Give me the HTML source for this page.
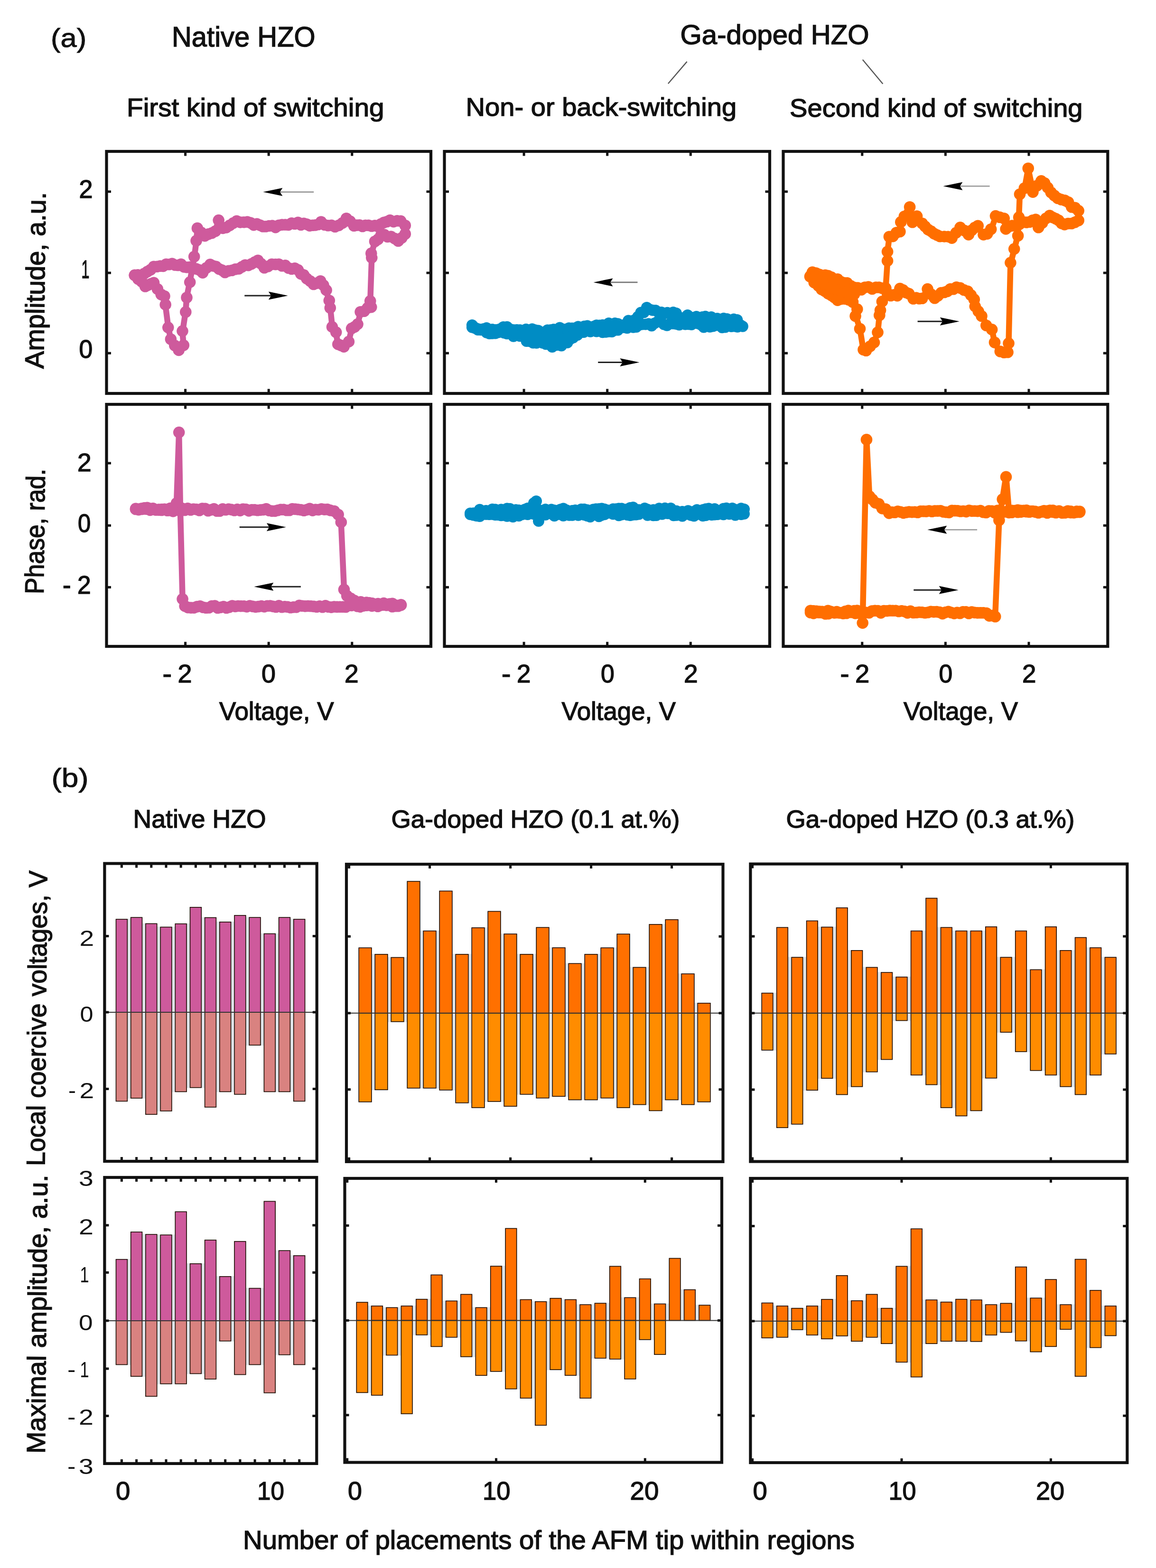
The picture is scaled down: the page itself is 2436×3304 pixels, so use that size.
<!DOCTYPE html>
<html><head><meta charset="utf-8"><title>Figure</title>
<style>html,body{margin:0;padding:0;background:#fff;}svg{display:block;}</style>
</head><body>
<svg xmlns="http://www.w3.org/2000/svg" width="2436" height="3304" viewBox="0 0 2436 3304" font-family='"Liberation Sans", Arial, sans-serif'><rect x="224.5" y="319.0" width="683.5" height="510.0" fill="none" stroke="#111" stroke-width="6.2"/>
<line x1="390.6" y1="319.0" x2="390.6" y2="328.5" stroke="#111" stroke-width="5.0"/>
<line x1="390.6" y1="829.0" x2="390.6" y2="819.5" stroke="#111" stroke-width="5.0"/>
<line x1="566.2" y1="319.0" x2="566.2" y2="328.5" stroke="#111" stroke-width="5.0"/>
<line x1="566.2" y1="829.0" x2="566.2" y2="819.5" stroke="#111" stroke-width="5.0"/>
<line x1="741.8" y1="319.0" x2="741.8" y2="328.5" stroke="#111" stroke-width="5.0"/>
<line x1="741.8" y1="829.0" x2="741.8" y2="819.5" stroke="#111" stroke-width="5.0"/>
<line x1="224.5" y1="403.8" x2="234.0" y2="403.8" stroke="#111" stroke-width="5.0"/>
<line x1="908.0" y1="403.8" x2="898.5" y2="403.8" stroke="#111" stroke-width="5.0"/>
<line x1="224.5" y1="575.0" x2="234.0" y2="575.0" stroke="#111" stroke-width="5.0"/>
<line x1="908.0" y1="575.0" x2="898.5" y2="575.0" stroke="#111" stroke-width="5.0"/>
<line x1="224.5" y1="744.2" x2="234.0" y2="744.2" stroke="#111" stroke-width="5.0"/>
<line x1="908.0" y1="744.2" x2="898.5" y2="744.2" stroke="#111" stroke-width="5.0"/>
<rect x="224.5" y="852.0" width="683.5" height="510.0" fill="none" stroke="#111" stroke-width="6.2"/>
<line x1="390.6" y1="852.0" x2="390.6" y2="861.5" stroke="#111" stroke-width="5.0"/>
<line x1="390.6" y1="1362.0" x2="390.6" y2="1352.5" stroke="#111" stroke-width="5.0"/>
<line x1="566.2" y1="852.0" x2="566.2" y2="861.5" stroke="#111" stroke-width="5.0"/>
<line x1="566.2" y1="1362.0" x2="566.2" y2="1352.5" stroke="#111" stroke-width="5.0"/>
<line x1="741.8" y1="852.0" x2="741.8" y2="861.5" stroke="#111" stroke-width="5.0"/>
<line x1="741.8" y1="1362.0" x2="741.8" y2="1352.5" stroke="#111" stroke-width="5.0"/>
<line x1="224.5" y1="976.0" x2="234.0" y2="976.0" stroke="#111" stroke-width="5.0"/>
<line x1="908.0" y1="976.0" x2="898.5" y2="976.0" stroke="#111" stroke-width="5.0"/>
<line x1="224.5" y1="1107.3" x2="234.0" y2="1107.3" stroke="#111" stroke-width="5.0"/>
<line x1="908.0" y1="1107.3" x2="898.5" y2="1107.3" stroke="#111" stroke-width="5.0"/>
<line x1="224.5" y1="1237.4" x2="234.0" y2="1237.4" stroke="#111" stroke-width="5.0"/>
<line x1="908.0" y1="1237.4" x2="898.5" y2="1237.4" stroke="#111" stroke-width="5.0"/>
<rect x="936.5" y="319.0" width="685.5" height="510.0" fill="none" stroke="#111" stroke-width="6.2"/>
<line x1="1104.1" y1="319.0" x2="1104.1" y2="328.5" stroke="#111" stroke-width="5.0"/>
<line x1="1104.1" y1="829.0" x2="1104.1" y2="819.5" stroke="#111" stroke-width="5.0"/>
<line x1="1279.7" y1="319.0" x2="1279.7" y2="328.5" stroke="#111" stroke-width="5.0"/>
<line x1="1279.7" y1="829.0" x2="1279.7" y2="819.5" stroke="#111" stroke-width="5.0"/>
<line x1="1455.3" y1="319.0" x2="1455.3" y2="328.5" stroke="#111" stroke-width="5.0"/>
<line x1="1455.3" y1="829.0" x2="1455.3" y2="819.5" stroke="#111" stroke-width="5.0"/>
<line x1="936.5" y1="403.8" x2="946.0" y2="403.8" stroke="#111" stroke-width="5.0"/>
<line x1="1622.0" y1="403.8" x2="1612.5" y2="403.8" stroke="#111" stroke-width="5.0"/>
<line x1="936.5" y1="575.0" x2="946.0" y2="575.0" stroke="#111" stroke-width="5.0"/>
<line x1="1622.0" y1="575.0" x2="1612.5" y2="575.0" stroke="#111" stroke-width="5.0"/>
<line x1="936.5" y1="744.2" x2="946.0" y2="744.2" stroke="#111" stroke-width="5.0"/>
<line x1="1622.0" y1="744.2" x2="1612.5" y2="744.2" stroke="#111" stroke-width="5.0"/>
<rect x="936.5" y="852.0" width="685.5" height="510.0" fill="none" stroke="#111" stroke-width="6.2"/>
<line x1="1104.1" y1="852.0" x2="1104.1" y2="861.5" stroke="#111" stroke-width="5.0"/>
<line x1="1104.1" y1="1362.0" x2="1104.1" y2="1352.5" stroke="#111" stroke-width="5.0"/>
<line x1="1279.7" y1="852.0" x2="1279.7" y2="861.5" stroke="#111" stroke-width="5.0"/>
<line x1="1279.7" y1="1362.0" x2="1279.7" y2="1352.5" stroke="#111" stroke-width="5.0"/>
<line x1="1455.3" y1="852.0" x2="1455.3" y2="861.5" stroke="#111" stroke-width="5.0"/>
<line x1="1455.3" y1="1362.0" x2="1455.3" y2="1352.5" stroke="#111" stroke-width="5.0"/>
<line x1="936.5" y1="976.0" x2="946.0" y2="976.0" stroke="#111" stroke-width="5.0"/>
<line x1="1622.0" y1="976.0" x2="1612.5" y2="976.0" stroke="#111" stroke-width="5.0"/>
<line x1="936.5" y1="1107.3" x2="946.0" y2="1107.3" stroke="#111" stroke-width="5.0"/>
<line x1="1622.0" y1="1107.3" x2="1612.5" y2="1107.3" stroke="#111" stroke-width="5.0"/>
<line x1="936.5" y1="1237.4" x2="946.0" y2="1237.4" stroke="#111" stroke-width="5.0"/>
<line x1="1622.0" y1="1237.4" x2="1612.5" y2="1237.4" stroke="#111" stroke-width="5.0"/>
<rect x="1650.5" y="319.0" width="683.8" height="510.0" fill="none" stroke="#111" stroke-width="6.2"/>
<line x1="1816.8" y1="319.0" x2="1816.8" y2="328.5" stroke="#111" stroke-width="5.0"/>
<line x1="1816.8" y1="829.0" x2="1816.8" y2="819.5" stroke="#111" stroke-width="5.0"/>
<line x1="1992.4" y1="319.0" x2="1992.4" y2="328.5" stroke="#111" stroke-width="5.0"/>
<line x1="1992.4" y1="829.0" x2="1992.4" y2="819.5" stroke="#111" stroke-width="5.0"/>
<line x1="2168.0" y1="319.0" x2="2168.0" y2="328.5" stroke="#111" stroke-width="5.0"/>
<line x1="2168.0" y1="829.0" x2="2168.0" y2="819.5" stroke="#111" stroke-width="5.0"/>
<line x1="1650.5" y1="403.8" x2="1660.0" y2="403.8" stroke="#111" stroke-width="5.0"/>
<line x1="2334.3" y1="403.8" x2="2324.8" y2="403.8" stroke="#111" stroke-width="5.0"/>
<line x1="1650.5" y1="575.0" x2="1660.0" y2="575.0" stroke="#111" stroke-width="5.0"/>
<line x1="2334.3" y1="575.0" x2="2324.8" y2="575.0" stroke="#111" stroke-width="5.0"/>
<line x1="1650.5" y1="744.2" x2="1660.0" y2="744.2" stroke="#111" stroke-width="5.0"/>
<line x1="2334.3" y1="744.2" x2="2324.8" y2="744.2" stroke="#111" stroke-width="5.0"/>
<rect x="1650.5" y="852.0" width="683.8" height="510.0" fill="none" stroke="#111" stroke-width="6.2"/>
<line x1="1816.8" y1="852.0" x2="1816.8" y2="861.5" stroke="#111" stroke-width="5.0"/>
<line x1="1816.8" y1="1362.0" x2="1816.8" y2="1352.5" stroke="#111" stroke-width="5.0"/>
<line x1="1992.4" y1="852.0" x2="1992.4" y2="861.5" stroke="#111" stroke-width="5.0"/>
<line x1="1992.4" y1="1362.0" x2="1992.4" y2="1352.5" stroke="#111" stroke-width="5.0"/>
<line x1="2168.0" y1="852.0" x2="2168.0" y2="861.5" stroke="#111" stroke-width="5.0"/>
<line x1="2168.0" y1="1362.0" x2="2168.0" y2="1352.5" stroke="#111" stroke-width="5.0"/>
<line x1="1650.5" y1="976.0" x2="1660.0" y2="976.0" stroke="#111" stroke-width="5.0"/>
<line x1="2334.3" y1="976.0" x2="2324.8" y2="976.0" stroke="#111" stroke-width="5.0"/>
<line x1="1650.5" y1="1107.3" x2="1660.0" y2="1107.3" stroke="#111" stroke-width="5.0"/>
<line x1="2334.3" y1="1107.3" x2="2324.8" y2="1107.3" stroke="#111" stroke-width="5.0"/>
<line x1="1650.5" y1="1237.4" x2="1660.0" y2="1237.4" stroke="#111" stroke-width="5.0"/>
<line x1="2334.3" y1="1237.4" x2="2324.8" y2="1237.4" stroke="#111" stroke-width="5.0"/>
<path d="M283.8,580.1 L303.9,576.8 L324.1,563.3 L337.5,560.0 L368.9,557.0 L400.2,562.0 L427.1,574.5 L442.8,558.9 L474.1,572.3 L503.2,565.6 L543.5,547.7 L557.0,565.6 L580.6,555.8 L601.2,560.0 L627.9,570.2 L646.4,584.6 L660.8,601.1 L675.3,590.8 L687.6,613.5 L693.8,634.0 L695.8,646.4 L700.0,687.6 L708.2,702.0 L712.3,726.7 L724.6,732.8 L734.9,718.4 L741.1,693.7 L753.5,683.4 L759.6,658.7 L782.3,646.4 L780.2,636.1 L783.3,543.5 L782.3,535.3 L790.0,510.0 L803.1,494.0 L816.5,497.0 L839.1,506.0 L853.8,495.0 L853.8,472.6 L844.4,467.3 L821.8,465.0 L796.5,477.0 L769.9,475.0 L745.9,474.0 L729.9,462.0 L706.0,479.0 L676.6,469.0 L652.6,476.0 L627.9,470.0 L601.2,473.0 L580.6,478.0 L560.0,477.0 L548.0,474.0 L521.2,470.0 L498.8,468.0 L469.6,482.7 L460.7,464.8 L454.0,485.0 L431.6,496.1 L415.9,482.7 L413.6,509.6 L409.2,543.2 L400.2,592.5 L393.5,626.0 L391.3,655.2 L384.5,700.0 L386.8,726.8 L376.7,738.0 L359.9,715.6 L354.3,687.6 L348.7,644.0 L346.5,623.8 L339.7,619.3 L324.1,594.7 L306.1,601.4 L283.8,580.1" fill="none" stroke="#ce5a9c" stroke-width="12.5" stroke-linejoin="round" stroke-linecap="round"/>
<g fill="#ce5a9c"><circle cx="283.8" cy="579.9" r="12.3"/><circle cx="290.5" cy="579.3" r="12.3"/><circle cx="297.2" cy="580.0" r="12.3"/><circle cx="303.9" cy="576.6" r="12.3"/><circle cx="310.6" cy="572.3" r="12.3"/><circle cx="317.4" cy="568.2" r="12.3"/><circle cx="324.1" cy="561.7" r="12.3"/><circle cx="330.8" cy="561.7" r="12.3"/><circle cx="337.5" cy="560.6" r="12.3"/><circle cx="343.8" cy="560.9" r="12.3"/><circle cx="350.1" cy="556.8" r="12.3"/><circle cx="356.3" cy="557.2" r="12.3"/><circle cx="362.6" cy="555.6" r="12.3"/><circle cx="368.9" cy="558.5" r="12.3"/><circle cx="375.2" cy="559.0" r="12.3"/><circle cx="381.4" cy="556.7" r="12.3"/><circle cx="387.7" cy="562.4" r="12.3"/><circle cx="393.9" cy="563.3" r="12.3"/><circle cx="400.2" cy="562.8" r="12.3"/><circle cx="406.9" cy="565.7" r="12.3"/><circle cx="413.6" cy="566.5" r="12.3"/><circle cx="420.4" cy="569.0" r="12.3"/><circle cx="427.1" cy="574.6" r="12.3"/><circle cx="435.0" cy="564.5" r="12.3"/><circle cx="442.8" cy="557.4" r="12.3"/><circle cx="449.1" cy="560.3" r="12.3"/><circle cx="455.3" cy="561.9" r="12.3"/><circle cx="461.6" cy="566.8" r="12.3"/><circle cx="467.8" cy="569.3" r="12.3"/><circle cx="474.1" cy="574.0" r="12.3"/><circle cx="481.4" cy="570.7" r="12.3"/><circle cx="488.6" cy="569.7" r="12.3"/><circle cx="495.9" cy="567.3" r="12.3"/><circle cx="503.2" cy="566.4" r="12.3"/><circle cx="509.9" cy="562.4" r="12.3"/><circle cx="516.6" cy="558.5" r="12.3"/><circle cx="523.4" cy="559.1" r="12.3"/><circle cx="530.1" cy="556.1" r="12.3"/><circle cx="536.8" cy="552.4" r="12.3"/><circle cx="543.5" cy="548.7" r="12.3"/><circle cx="550.2" cy="555.7" r="12.3"/><circle cx="557.0" cy="564.2" r="12.3"/><circle cx="564.9" cy="561.3" r="12.3"/><circle cx="572.7" cy="556.9" r="12.3"/><circle cx="580.6" cy="557.1" r="12.3"/><circle cx="587.5" cy="556.7" r="12.3"/><circle cx="594.3" cy="560.3" r="12.3"/><circle cx="601.2" cy="559.4" r="12.3"/><circle cx="607.9" cy="564.8" r="12.3"/><circle cx="614.5" cy="566.8" r="12.3"/><circle cx="621.2" cy="565.2" r="12.3"/><circle cx="627.9" cy="568.7" r="12.3"/><circle cx="634.1" cy="577.1" r="12.3"/><circle cx="640.2" cy="579.6" r="12.3"/><circle cx="646.4" cy="587.0" r="12.3"/><circle cx="653.6" cy="592.3" r="12.3"/><circle cx="660.8" cy="599.0" r="12.3"/><circle cx="668.0" cy="596.6" r="12.3"/><circle cx="675.3" cy="592.2" r="12.3"/><circle cx="681.5" cy="601.0" r="12.3"/><circle cx="687.6" cy="611.4" r="12.3"/><circle cx="693.8" cy="633.2" r="12.3"/><circle cx="695.8" cy="648.7" r="12.3"/><circle cx="700.0" cy="688.9" r="12.3"/><circle cx="708.2" cy="700.1" r="12.3"/><circle cx="712.3" cy="725.4" r="12.3"/><circle cx="718.5" cy="727.8" r="12.3"/><circle cx="724.6" cy="730.6" r="12.3"/><circle cx="734.9" cy="719.9" r="12.3"/><circle cx="741.1" cy="692.1" r="12.3"/><circle cx="747.3" cy="688.8" r="12.3"/><circle cx="753.5" cy="683.1" r="12.3"/><circle cx="759.6" cy="657.2" r="12.3"/><circle cx="767.2" cy="655.8" r="12.3"/><circle cx="774.7" cy="648.7" r="12.3"/><circle cx="782.3" cy="647.1" r="12.3"/><circle cx="780.2" cy="634.2" r="12.3"/><circle cx="783.3" cy="543.1" r="12.3"/><circle cx="782.3" cy="533.9" r="12.3"/><circle cx="790.0" cy="508.8" r="12.3"/><circle cx="796.5" cy="504.4" r="12.3"/><circle cx="803.1" cy="495.5" r="12.3"/><circle cx="809.8" cy="494.5" r="12.3"/><circle cx="816.5" cy="498.9" r="12.3"/><circle cx="824.0" cy="498.6" r="12.3"/><circle cx="831.6" cy="502.5" r="12.3"/><circle cx="839.1" cy="507.8" r="12.3"/><circle cx="846.5" cy="501.2" r="12.3"/><circle cx="853.8" cy="493.0" r="12.3"/><circle cx="853.8" cy="475.0" r="12.3"/><circle cx="844.4" cy="465.9" r="12.3"/><circle cx="836.9" cy="465.3" r="12.3"/><circle cx="829.3" cy="467.1" r="12.3"/><circle cx="821.8" cy="464.1" r="12.3"/><circle cx="815.5" cy="467.0" r="12.3"/><circle cx="809.1" cy="468.9" r="12.3"/><circle cx="802.8" cy="472.0" r="12.3"/><circle cx="796.5" cy="477.4" r="12.3"/><circle cx="789.9" cy="475.2" r="12.3"/><circle cx="783.2" cy="476.5" r="12.3"/><circle cx="776.5" cy="474.9" r="12.3"/><circle cx="769.9" cy="474.8" r="12.3"/><circle cx="763.9" cy="477.0" r="12.3"/><circle cx="757.9" cy="474.4" r="12.3"/><circle cx="751.9" cy="474.6" r="12.3"/><circle cx="745.9" cy="475.8" r="12.3"/><circle cx="737.9" cy="466.4" r="12.3"/><circle cx="729.9" cy="460.3" r="12.3"/><circle cx="721.9" cy="469.7" r="12.3"/><circle cx="714.0" cy="474.9" r="12.3"/><circle cx="706.0" cy="477.7" r="12.3"/><circle cx="698.6" cy="474.9" r="12.3"/><circle cx="691.3" cy="475.2" r="12.3"/><circle cx="684.0" cy="473.7" r="12.3"/><circle cx="676.6" cy="467.5" r="12.3"/><circle cx="670.6" cy="473.0" r="12.3"/><circle cx="664.6" cy="474.4" r="12.3"/><circle cx="658.6" cy="474.8" r="12.3"/><circle cx="652.6" cy="475.6" r="12.3"/><circle cx="646.4" cy="472.5" r="12.3"/><circle cx="640.2" cy="470.7" r="12.3"/><circle cx="634.1" cy="473.8" r="12.3"/><circle cx="627.9" cy="468.7" r="12.3"/><circle cx="621.2" cy="471.8" r="12.3"/><circle cx="614.5" cy="470.3" r="12.3"/><circle cx="607.9" cy="473.9" r="12.3"/><circle cx="601.2" cy="473.5" r="12.3"/><circle cx="594.3" cy="473.6" r="12.3"/><circle cx="587.5" cy="474.7" r="12.3"/><circle cx="580.6" cy="479.1" r="12.3"/><circle cx="573.7" cy="475.5" r="12.3"/><circle cx="566.9" cy="476.0" r="12.3"/><circle cx="560.0" cy="477.3" r="12.3"/><circle cx="554.0" cy="477.3" r="12.3"/><circle cx="548.0" cy="474.6" r="12.3"/><circle cx="541.3" cy="471.9" r="12.3"/><circle cx="534.6" cy="474.1" r="12.3"/><circle cx="527.9" cy="469.5" r="12.3"/><circle cx="521.2" cy="467.6" r="12.3"/><circle cx="513.7" cy="468.2" r="12.3"/><circle cx="506.3" cy="468.4" r="12.3"/><circle cx="498.8" cy="465.8" r="12.3"/><circle cx="491.5" cy="470.1" r="12.3"/><circle cx="484.2" cy="474.7" r="12.3"/><circle cx="476.9" cy="479.4" r="12.3"/><circle cx="469.6" cy="480.9" r="12.3"/><circle cx="460.7" cy="464.1" r="12.3"/><circle cx="454.0" cy="487.0" r="12.3"/><circle cx="446.5" cy="491.1" r="12.3"/><circle cx="439.1" cy="493.2" r="12.3"/><circle cx="431.6" cy="497.1" r="12.3"/><circle cx="423.8" cy="489.8" r="12.3"/><circle cx="415.9" cy="480.9" r="12.3"/><circle cx="413.6" cy="507.3" r="12.3"/><circle cx="409.2" cy="540.8" r="12.3"/><circle cx="400.2" cy="594.6" r="12.3"/><circle cx="393.5" cy="627.0" r="12.3"/><circle cx="391.3" cy="657.5" r="12.3"/><circle cx="384.5" cy="697.6" r="12.3"/><circle cx="386.8" cy="727.5" r="12.3"/><circle cx="376.7" cy="737.9" r="12.3"/><circle cx="368.3" cy="728.0" r="12.3"/><circle cx="359.9" cy="714.7" r="12.3"/><circle cx="354.3" cy="690.1" r="12.3"/><circle cx="348.7" cy="641.9" r="12.3"/><circle cx="346.5" cy="624.0" r="12.3"/><circle cx="339.7" cy="620.5" r="12.3"/><circle cx="331.9" cy="609.0" r="12.3"/><circle cx="324.1" cy="595.9" r="12.3"/><circle cx="318.1" cy="598.0" r="12.3"/><circle cx="312.1" cy="600.6" r="12.3"/><circle cx="306.1" cy="603.5" r="12.3"/><circle cx="298.7" cy="593.6" r="12.3"/><circle cx="291.2" cy="588.1" r="12.3"/><circle cx="283.8" cy="580.1" r="12.3"/></g>
<path d="M286.0,1072.0 L364.8,1073.0 L500.0,1075.0 L658.7,1074.0 L696.0,1074.0 L712.6,1084.0 L718.8,1102.0 L725.0,1241.2 L731.2,1257.8 L754.0,1270.2 L845.0,1274.3" fill="none" stroke="#ce5a9c" stroke-width="12.5" stroke-linejoin="round" stroke-linecap="round"/>
<g fill="#ce5a9c"><circle cx="286.0" cy="1071.9" r="12.3"/><circle cx="292.1" cy="1072.9" r="12.3"/><circle cx="298.1" cy="1073.0" r="12.3"/><circle cx="304.2" cy="1070.4" r="12.3"/><circle cx="310.2" cy="1069.9" r="12.3"/><circle cx="316.3" cy="1071.8" r="12.3"/><circle cx="322.4" cy="1071.3" r="12.3"/><circle cx="328.4" cy="1074.1" r="12.3"/><circle cx="334.5" cy="1073.6" r="12.3"/><circle cx="340.6" cy="1073.2" r="12.3"/><circle cx="346.6" cy="1073.1" r="12.3"/><circle cx="352.7" cy="1073.7" r="12.3"/><circle cx="358.7" cy="1071.1" r="12.3"/><circle cx="364.8" cy="1072.7" r="12.3"/><circle cx="370.9" cy="1071.4" r="12.3"/><circle cx="377.1" cy="1075.2" r="12.3"/><circle cx="383.2" cy="1071.1" r="12.3"/><circle cx="389.4" cy="1075.0" r="12.3"/><circle cx="395.5" cy="1071.3" r="12.3"/><circle cx="401.7" cy="1074.5" r="12.3"/><circle cx="407.8" cy="1072.8" r="12.3"/><circle cx="414.0" cy="1073.3" r="12.3"/><circle cx="420.1" cy="1075.5" r="12.3"/><circle cx="426.3" cy="1071.5" r="12.3"/><circle cx="432.4" cy="1071.8" r="12.3"/><circle cx="438.5" cy="1076.2" r="12.3"/><circle cx="444.7" cy="1074.2" r="12.3"/><circle cx="450.8" cy="1072.2" r="12.3"/><circle cx="457.0" cy="1076.8" r="12.3"/><circle cx="463.1" cy="1076.7" r="12.3"/><circle cx="469.3" cy="1072.6" r="12.3"/><circle cx="475.4" cy="1074.3" r="12.3"/><circle cx="481.6" cy="1072.9" r="12.3"/><circle cx="487.7" cy="1073.9" r="12.3"/><circle cx="493.9" cy="1075.5" r="12.3"/><circle cx="500.0" cy="1073.3" r="12.3"/><circle cx="506.1" cy="1075.9" r="12.3"/><circle cx="512.2" cy="1072.7" r="12.3"/><circle cx="518.3" cy="1073.2" r="12.3"/><circle cx="524.4" cy="1076.4" r="12.3"/><circle cx="530.5" cy="1074.3" r="12.3"/><circle cx="536.6" cy="1074.4" r="12.3"/><circle cx="542.7" cy="1075.2" r="12.3"/><circle cx="548.8" cy="1074.6" r="12.3"/><circle cx="554.9" cy="1074.1" r="12.3"/><circle cx="561.0" cy="1072.3" r="12.3"/><circle cx="567.1" cy="1075.7" r="12.3"/><circle cx="573.2" cy="1076.9" r="12.3"/><circle cx="579.4" cy="1076.9" r="12.3"/><circle cx="585.5" cy="1075.3" r="12.3"/><circle cx="591.6" cy="1073.7" r="12.3"/><circle cx="597.7" cy="1073.7" r="12.3"/><circle cx="603.8" cy="1075.3" r="12.3"/><circle cx="609.9" cy="1075.2" r="12.3"/><circle cx="616.0" cy="1072.3" r="12.3"/><circle cx="622.1" cy="1072.9" r="12.3"/><circle cx="628.2" cy="1073.5" r="12.3"/><circle cx="634.3" cy="1074.2" r="12.3"/><circle cx="640.4" cy="1075.7" r="12.3"/><circle cx="646.5" cy="1074.1" r="12.3"/><circle cx="652.6" cy="1071.7" r="12.3"/><circle cx="658.7" cy="1075.6" r="12.3"/><circle cx="664.9" cy="1073.7" r="12.3"/><circle cx="671.1" cy="1074.1" r="12.3"/><circle cx="677.4" cy="1072.6" r="12.3"/><circle cx="683.6" cy="1073.6" r="12.3"/><circle cx="689.8" cy="1073.4" r="12.3"/><circle cx="696.0" cy="1075.4" r="12.3"/><circle cx="704.3" cy="1077.0" r="12.3"/><circle cx="712.6" cy="1084.2" r="12.3"/><circle cx="718.8" cy="1100.4" r="12.3"/><circle cx="725.0" cy="1242.2" r="12.3"/><circle cx="731.2" cy="1255.5" r="12.3"/><circle cx="738.8" cy="1260.8" r="12.3"/><circle cx="746.4" cy="1265.3" r="12.3"/><circle cx="754.0" cy="1270.9" r="12.3"/><circle cx="760.1" cy="1268.2" r="12.3"/><circle cx="766.1" cy="1270.5" r="12.3"/><circle cx="772.2" cy="1269.6" r="12.3"/><circle cx="778.3" cy="1270.2" r="12.3"/><circle cx="784.3" cy="1271.4" r="12.3"/><circle cx="790.4" cy="1274.1" r="12.3"/><circle cx="796.5" cy="1272.0" r="12.3"/><circle cx="802.5" cy="1274.7" r="12.3"/><circle cx="808.6" cy="1271.0" r="12.3"/><circle cx="814.7" cy="1275.1" r="12.3"/><circle cx="820.7" cy="1272.5" r="12.3"/><circle cx="826.8" cy="1271.9" r="12.3"/><circle cx="832.9" cy="1275.0" r="12.3"/><circle cx="838.9" cy="1276.1" r="12.3"/><circle cx="845.0" cy="1274.3" r="12.3"/></g>
<path d="M845.0,1276.3 L600.0,1278.0 L428.0,1279.0 L389.6,1278.5 L384.6,1260.5 L380.0,1076.8 L377.2,910.0 L372.0,1062.0 L364.8,1075.0 L286.0,1073.0" fill="none" stroke="#ce5a9c" stroke-width="12.5" stroke-linejoin="round" stroke-linecap="round"/>
<g fill="#ce5a9c"><circle cx="845.0" cy="1275.1" r="12.3"/><circle cx="838.9" cy="1277.3" r="12.3"/><circle cx="832.8" cy="1277.3" r="12.3"/><circle cx="826.6" cy="1278.2" r="12.3"/><circle cx="820.5" cy="1274.9" r="12.3"/><circle cx="814.4" cy="1275.2" r="12.3"/><circle cx="808.2" cy="1274.8" r="12.3"/><circle cx="802.1" cy="1275.2" r="12.3"/><circle cx="796.0" cy="1277.8" r="12.3"/><circle cx="789.9" cy="1274.8" r="12.3"/><circle cx="783.8" cy="1276.9" r="12.3"/><circle cx="777.6" cy="1275.3" r="12.3"/><circle cx="771.5" cy="1275.8" r="12.3"/><circle cx="765.4" cy="1276.5" r="12.3"/><circle cx="759.2" cy="1278.6" r="12.3"/><circle cx="753.1" cy="1277.5" r="12.3"/><circle cx="747.0" cy="1274.6" r="12.3"/><circle cx="740.9" cy="1275.9" r="12.3"/><circle cx="734.8" cy="1275.3" r="12.3"/><circle cx="728.6" cy="1279.0" r="12.3"/><circle cx="722.5" cy="1278.7" r="12.3"/><circle cx="716.4" cy="1278.7" r="12.3"/><circle cx="710.2" cy="1278.9" r="12.3"/><circle cx="704.1" cy="1278.5" r="12.3"/><circle cx="698.0" cy="1279.6" r="12.3"/><circle cx="691.9" cy="1278.8" r="12.3"/><circle cx="685.8" cy="1276.2" r="12.3"/><circle cx="679.6" cy="1279.2" r="12.3"/><circle cx="673.5" cy="1277.4" r="12.3"/><circle cx="667.4" cy="1278.8" r="12.3"/><circle cx="661.2" cy="1277.9" r="12.3"/><circle cx="655.1" cy="1277.3" r="12.3"/><circle cx="649.0" cy="1277.0" r="12.3"/><circle cx="642.9" cy="1277.4" r="12.3"/><circle cx="636.8" cy="1276.8" r="12.3"/><circle cx="630.6" cy="1275.9" r="12.3"/><circle cx="624.5" cy="1279.4" r="12.3"/><circle cx="618.4" cy="1279.4" r="12.3"/><circle cx="612.2" cy="1280.3" r="12.3"/><circle cx="606.1" cy="1278.9" r="12.3"/><circle cx="600.0" cy="1278.3" r="12.3"/><circle cx="593.9" cy="1279.3" r="12.3"/><circle cx="587.7" cy="1276.2" r="12.3"/><circle cx="581.6" cy="1279.0" r="12.3"/><circle cx="575.4" cy="1277.9" r="12.3"/><circle cx="569.3" cy="1276.6" r="12.3"/><circle cx="563.1" cy="1276.7" r="12.3"/><circle cx="557.0" cy="1278.4" r="12.3"/><circle cx="550.9" cy="1277.1" r="12.3"/><circle cx="544.7" cy="1278.1" r="12.3"/><circle cx="538.6" cy="1278.9" r="12.3"/><circle cx="532.4" cy="1277.9" r="12.3"/><circle cx="526.3" cy="1276.6" r="12.3"/><circle cx="520.1" cy="1278.4" r="12.3"/><circle cx="514.0" cy="1277.2" r="12.3"/><circle cx="507.9" cy="1277.2" r="12.3"/><circle cx="501.7" cy="1277.0" r="12.3"/><circle cx="495.6" cy="1277.9" r="12.3"/><circle cx="489.4" cy="1276.5" r="12.3"/><circle cx="483.3" cy="1279.4" r="12.3"/><circle cx="477.1" cy="1281.0" r="12.3"/><circle cx="471.0" cy="1278.2" r="12.3"/><circle cx="464.9" cy="1279.9" r="12.3"/><circle cx="458.7" cy="1281.0" r="12.3"/><circle cx="452.6" cy="1276.6" r="12.3"/><circle cx="446.4" cy="1277.1" r="12.3"/><circle cx="440.3" cy="1280.5" r="12.3"/><circle cx="434.1" cy="1280.7" r="12.3"/><circle cx="428.0" cy="1279.7" r="12.3"/><circle cx="421.6" cy="1277.2" r="12.3"/><circle cx="415.2" cy="1278.4" r="12.3"/><circle cx="408.8" cy="1280.6" r="12.3"/><circle cx="402.4" cy="1280.6" r="12.3"/><circle cx="396.0" cy="1280.1" r="12.3"/><circle cx="389.6" cy="1277.0" r="12.3"/><circle cx="384.6" cy="1262.3" r="12.3"/><circle cx="380.0" cy="1076.2" r="12.3"/><circle cx="377.2" cy="911.1" r="12.3"/><circle cx="372.0" cy="1060.2" r="12.3"/><circle cx="364.8" cy="1077.4" r="12.3"/><circle cx="358.7" cy="1075.4" r="12.3"/><circle cx="352.7" cy="1075.8" r="12.3"/><circle cx="346.6" cy="1073.1" r="12.3"/><circle cx="340.6" cy="1075.0" r="12.3"/><circle cx="334.5" cy="1074.6" r="12.3"/><circle cx="328.4" cy="1074.5" r="12.3"/><circle cx="322.4" cy="1073.2" r="12.3"/><circle cx="316.3" cy="1074.9" r="12.3"/><circle cx="310.2" cy="1072.8" r="12.3"/><circle cx="304.2" cy="1072.4" r="12.3"/><circle cx="298.1" cy="1071.6" r="12.3"/><circle cx="292.1" cy="1074.1" r="12.3"/><circle cx="286.0" cy="1073.0" r="12.3"/></g>
<path d="M994.9,687.8 L1037.5,702.6 L1068.5,702.6 L1095.6,710.3 L1130.5,721.9 L1176.9,729.7 L1207.9,711.1 L1231.2,695.6 L1289.3,696.8 L1328.0,687.1 L1386.1,681.3 L1463.6,683.2 L1502.4,689.0 L1560.5,685.1" fill="none" stroke="#008cc4" stroke-width="12.5" stroke-linejoin="round" stroke-linecap="round"/>
<g fill="#008cc4"><circle cx="994.9" cy="685.1" r="12"/><circle cx="1001.0" cy="691.4" r="12"/><circle cx="1007.1" cy="693.1" r="12"/><circle cx="1013.2" cy="694.0" r="12"/><circle cx="1019.2" cy="694.0" r="12"/><circle cx="1025.3" cy="700.7" r="12"/><circle cx="1031.4" cy="702.9" r="12"/><circle cx="1037.5" cy="702.7" r="12"/><circle cx="1043.7" cy="702.6" r="12"/><circle cx="1049.9" cy="700.5" r="12"/><circle cx="1056.1" cy="698.6" r="12"/><circle cx="1062.3" cy="701.6" r="12"/><circle cx="1068.5" cy="703.3" r="12"/><circle cx="1075.3" cy="701.1" r="12"/><circle cx="1082.0" cy="708.8" r="12"/><circle cx="1088.8" cy="706.2" r="12"/><circle cx="1095.6" cy="708.2" r="12"/><circle cx="1102.6" cy="709.0" r="12"/><circle cx="1109.6" cy="718.9" r="12"/><circle cx="1116.5" cy="719.2" r="12"/><circle cx="1123.5" cy="722.6" r="12"/><circle cx="1130.5" cy="722.8" r="12"/><circle cx="1137.1" cy="719.3" r="12"/><circle cx="1143.8" cy="722.8" r="12"/><circle cx="1150.4" cy="725.2" r="12"/><circle cx="1157.0" cy="723.3" r="12"/><circle cx="1163.6" cy="731.1" r="12"/><circle cx="1170.3" cy="727.5" r="12"/><circle cx="1176.9" cy="726.9" r="12"/><circle cx="1183.1" cy="728.5" r="12"/><circle cx="1189.3" cy="719.3" r="12"/><circle cx="1195.5" cy="722.0" r="12"/><circle cx="1201.7" cy="714.4" r="12"/><circle cx="1207.9" cy="711.5" r="12"/><circle cx="1215.7" cy="704.7" r="12"/><circle cx="1223.4" cy="700.6" r="12"/><circle cx="1231.2" cy="693.1" r="12"/><circle cx="1237.7" cy="692.0" r="12"/><circle cx="1244.1" cy="698.8" r="12"/><circle cx="1250.6" cy="693.9" r="12"/><circle cx="1257.0" cy="698.4" r="12"/><circle cx="1263.5" cy="693.9" r="12"/><circle cx="1269.9" cy="700.2" r="12"/><circle cx="1276.4" cy="699.7" r="12"/><circle cx="1282.8" cy="698.7" r="12"/><circle cx="1289.3" cy="698.9" r="12"/><circle cx="1295.8" cy="695.8" r="12"/><circle cx="1302.2" cy="695.4" r="12"/><circle cx="1308.7" cy="688.9" r="12"/><circle cx="1315.1" cy="690.1" r="12"/><circle cx="1321.5" cy="691.3" r="12"/><circle cx="1328.0" cy="684.7" r="12"/><circle cx="1334.5" cy="689.8" r="12"/><circle cx="1340.9" cy="688.9" r="12"/><circle cx="1347.4" cy="684.4" r="12"/><circle cx="1353.8" cy="683.4" r="12"/><circle cx="1360.3" cy="683.5" r="12"/><circle cx="1366.7" cy="682.3" r="12"/><circle cx="1373.2" cy="686.5" r="12"/><circle cx="1379.6" cy="681.0" r="12"/><circle cx="1386.1" cy="677.5" r="12"/><circle cx="1392.6" cy="678.2" r="12"/><circle cx="1399.0" cy="683.4" r="12"/><circle cx="1405.5" cy="685.7" r="12"/><circle cx="1411.9" cy="681.9" r="12"/><circle cx="1418.4" cy="682.0" r="12"/><circle cx="1424.8" cy="682.7" r="12"/><circle cx="1431.3" cy="684.4" r="12"/><circle cx="1437.8" cy="680.3" r="12"/><circle cx="1444.2" cy="683.6" r="12"/><circle cx="1450.7" cy="683.3" r="12"/><circle cx="1457.1" cy="684.0" r="12"/><circle cx="1463.6" cy="680.6" r="12"/><circle cx="1470.1" cy="681.5" r="12"/><circle cx="1476.5" cy="683.9" r="12"/><circle cx="1483.0" cy="689.5" r="12"/><circle cx="1489.5" cy="685.8" r="12"/><circle cx="1495.9" cy="688.8" r="12"/><circle cx="1502.4" cy="687.5" r="12"/><circle cx="1508.9" cy="685.4" r="12"/><circle cx="1515.3" cy="684.7" r="12"/><circle cx="1521.8" cy="690.2" r="12"/><circle cx="1528.2" cy="689.5" r="12"/><circle cx="1534.7" cy="685.8" r="12"/><circle cx="1541.1" cy="687.9" r="12"/><circle cx="1547.6" cy="687.4" r="12"/><circle cx="1554.0" cy="688.7" r="12"/><circle cx="1560.5" cy="685.1" r="12"/></g>
<path d="M1564.9,684.0 L1553.3,677.0 L1517.8,673.1 L1467.5,665.4 L1436.5,669.2 L1424.9,661.5 L1362.9,649.9 L1331.9,675.1 L1308.7,684.7 L1269.9,684.7 L1231.2,688.6 L1153.7,696.4 L1076.2,696.4 L1060.7,688.6 L1037.5,696.4 L994.9,689.8" fill="none" stroke="#008cc4" stroke-width="12.5" stroke-linejoin="round" stroke-linecap="round"/>
<g fill="#008cc4"><circle cx="1564.9" cy="687.7" r="12"/><circle cx="1553.3" cy="674.1" r="12"/><circle cx="1546.2" cy="672.4" r="12"/><circle cx="1539.1" cy="679.4" r="12"/><circle cx="1532.0" cy="672.1" r="12"/><circle cx="1524.9" cy="670.8" r="12"/><circle cx="1517.8" cy="674.3" r="12"/><circle cx="1511.5" cy="670.9" r="12"/><circle cx="1505.2" cy="674.3" r="12"/><circle cx="1498.9" cy="668.1" r="12"/><circle cx="1492.7" cy="672.9" r="12"/><circle cx="1486.4" cy="666.8" r="12"/><circle cx="1480.1" cy="668.1" r="12"/><circle cx="1473.8" cy="669.8" r="12"/><circle cx="1467.5" cy="666.9" r="12"/><circle cx="1461.3" cy="669.6" r="12"/><circle cx="1455.1" cy="668.6" r="12"/><circle cx="1448.9" cy="664.1" r="12"/><circle cx="1442.7" cy="671.5" r="12"/><circle cx="1436.5" cy="669.9" r="12"/><circle cx="1424.9" cy="660.0" r="12"/><circle cx="1418.7" cy="657.9" r="12"/><circle cx="1412.5" cy="662.0" r="12"/><circle cx="1406.3" cy="658.7" r="12"/><circle cx="1400.1" cy="660.4" r="12"/><circle cx="1393.9" cy="657.9" r="12"/><circle cx="1387.7" cy="658.2" r="12"/><circle cx="1381.5" cy="653.9" r="12"/><circle cx="1375.3" cy="653.8" r="12"/><circle cx="1369.1" cy="652.0" r="12"/><circle cx="1362.9" cy="648.0" r="12"/><circle cx="1356.7" cy="658.6" r="12"/><circle cx="1350.5" cy="658.5" r="12"/><circle cx="1344.3" cy="667.3" r="12"/><circle cx="1338.1" cy="673.7" r="12"/><circle cx="1331.9" cy="676.3" r="12"/><circle cx="1324.2" cy="675.4" r="12"/><circle cx="1316.4" cy="684.1" r="12"/><circle cx="1308.7" cy="686.0" r="12"/><circle cx="1302.2" cy="682.2" r="12"/><circle cx="1295.8" cy="681.1" r="12"/><circle cx="1289.3" cy="685.0" r="12"/><circle cx="1282.8" cy="681.0" r="12"/><circle cx="1276.4" cy="688.1" r="12"/><circle cx="1269.9" cy="684.8" r="12"/><circle cx="1263.5" cy="685.5" r="12"/><circle cx="1257.0" cy="685.3" r="12"/><circle cx="1250.6" cy="687.9" r="12"/><circle cx="1244.1" cy="690.6" r="12"/><circle cx="1237.7" cy="686.4" r="12"/><circle cx="1231.2" cy="687.6" r="12"/><circle cx="1224.7" cy="689.9" r="12"/><circle cx="1218.3" cy="688.3" r="12"/><circle cx="1211.8" cy="691.3" r="12"/><circle cx="1205.4" cy="691.5" r="12"/><circle cx="1198.9" cy="691.3" r="12"/><circle cx="1192.5" cy="693.9" r="12"/><circle cx="1186.0" cy="693.4" r="12"/><circle cx="1179.5" cy="690.5" r="12"/><circle cx="1173.1" cy="698.4" r="12"/><circle cx="1166.6" cy="693.9" r="12"/><circle cx="1160.2" cy="695.2" r="12"/><circle cx="1153.7" cy="695.6" r="12"/><circle cx="1147.2" cy="699.8" r="12"/><circle cx="1140.8" cy="700.0" r="12"/><circle cx="1134.3" cy="696.5" r="12"/><circle cx="1127.9" cy="695.6" r="12"/><circle cx="1121.4" cy="693.2" r="12"/><circle cx="1115.0" cy="699.6" r="12"/><circle cx="1108.5" cy="693.8" r="12"/><circle cx="1102.0" cy="696.8" r="12"/><circle cx="1095.6" cy="695.2" r="12"/><circle cx="1089.1" cy="695.0" r="12"/><circle cx="1082.7" cy="695.3" r="12"/><circle cx="1076.2" cy="693.9" r="12"/><circle cx="1068.5" cy="688.8" r="12"/><circle cx="1060.7" cy="688.9" r="12"/><circle cx="1053.0" cy="693.6" r="12"/><circle cx="1045.2" cy="695.0" r="12"/><circle cx="1037.5" cy="694.0" r="12"/><circle cx="1031.4" cy="697.0" r="12"/><circle cx="1025.3" cy="690.9" r="12"/><circle cx="1019.2" cy="692.9" r="12"/><circle cx="1013.2" cy="695.3" r="12"/><circle cx="1007.1" cy="695.1" r="12"/><circle cx="1001.0" cy="690.4" r="12"/><circle cx="994.9" cy="689.8" r="12"/></g>
<path d="M1100.0,705.0 L1150.0,712.0 L1190.0,712.0 L1230.0,700.0" fill="none" stroke="#008cc4" stroke-width="12.5" stroke-linejoin="round" stroke-linecap="round"/>
<g fill="#008cc4"><circle cx="1100.0" cy="704.3" r="12"/><circle cx="1106.2" cy="708.4" r="12"/><circle cx="1112.5" cy="708.8" r="12"/><circle cx="1118.8" cy="705.9" r="12"/><circle cx="1125.0" cy="710.7" r="12"/><circle cx="1131.2" cy="710.2" r="12"/><circle cx="1137.5" cy="707.5" r="12"/><circle cx="1143.8" cy="713.8" r="12"/><circle cx="1150.0" cy="710.5" r="12"/><circle cx="1156.7" cy="710.8" r="12"/><circle cx="1163.3" cy="711.5" r="12"/><circle cx="1170.0" cy="712.5" r="12"/><circle cx="1176.7" cy="709.7" r="12"/><circle cx="1183.3" cy="713.1" r="12"/><circle cx="1190.0" cy="714.0" r="12"/><circle cx="1196.7" cy="710.1" r="12"/><circle cx="1203.3" cy="709.8" r="12"/><circle cx="1210.0" cy="706.7" r="12"/><circle cx="1216.7" cy="705.9" r="12"/><circle cx="1223.3" cy="700.1" r="12"/><circle cx="1230.0" cy="700.0" r="12"/></g>
<path d="M991.0,1078.0 L1037.5,1076.0 L1130.5,1074.0 L1250.0,1076.0 L1328.0,1072.0 L1450.0,1076.0 L1568.0,1073.0" fill="none" stroke="#008cc4" stroke-width="12.5" stroke-linejoin="round" stroke-linecap="round"/>
<g fill="#008cc4"><circle cx="991.0" cy="1081.4" r="12"/><circle cx="997.6" cy="1081.3" r="12"/><circle cx="1004.3" cy="1080.6" r="12"/><circle cx="1010.9" cy="1073.8" r="12"/><circle cx="1017.6" cy="1077.6" r="12"/><circle cx="1024.2" cy="1076.0" r="12"/><circle cx="1030.9" cy="1076.5" r="12"/><circle cx="1037.5" cy="1073.0" r="12"/><circle cx="1043.7" cy="1073.4" r="12"/><circle cx="1049.9" cy="1075.3" r="12"/><circle cx="1056.1" cy="1073.4" r="12"/><circle cx="1062.3" cy="1075.1" r="12"/><circle cx="1068.5" cy="1071.5" r="12"/><circle cx="1074.7" cy="1071.9" r="12"/><circle cx="1080.9" cy="1076.7" r="12"/><circle cx="1087.1" cy="1074.3" r="12"/><circle cx="1093.3" cy="1074.9" r="12"/><circle cx="1099.5" cy="1076.5" r="12"/><circle cx="1105.7" cy="1073.4" r="12"/><circle cx="1111.9" cy="1070.9" r="12"/><circle cx="1118.1" cy="1076.5" r="12"/><circle cx="1124.3" cy="1074.8" r="12"/><circle cx="1130.5" cy="1075.3" r="12"/><circle cx="1136.8" cy="1075.1" r="12"/><circle cx="1143.1" cy="1078.0" r="12"/><circle cx="1149.4" cy="1073.2" r="12"/><circle cx="1155.7" cy="1076.5" r="12"/><circle cx="1161.9" cy="1073.5" r="12"/><circle cx="1168.2" cy="1075.2" r="12"/><circle cx="1174.5" cy="1076.0" r="12"/><circle cx="1180.8" cy="1073.4" r="12"/><circle cx="1187.1" cy="1071.6" r="12"/><circle cx="1193.4" cy="1074.8" r="12"/><circle cx="1199.7" cy="1076.9" r="12"/><circle cx="1206.0" cy="1076.0" r="12"/><circle cx="1212.3" cy="1074.9" r="12"/><circle cx="1218.6" cy="1076.6" r="12"/><circle cx="1224.8" cy="1073.0" r="12"/><circle cx="1231.1" cy="1073.1" r="12"/><circle cx="1237.4" cy="1074.4" r="12"/><circle cx="1243.7" cy="1078.4" r="12"/><circle cx="1250.0" cy="1073.6" r="12"/><circle cx="1256.0" cy="1072.6" r="12"/><circle cx="1262.0" cy="1072.2" r="12"/><circle cx="1268.0" cy="1071.4" r="12"/><circle cx="1274.0" cy="1073.0" r="12"/><circle cx="1280.0" cy="1075.0" r="12"/><circle cx="1286.0" cy="1076.7" r="12"/><circle cx="1292.0" cy="1072.5" r="12"/><circle cx="1298.0" cy="1072.5" r="12"/><circle cx="1304.0" cy="1071.5" r="12"/><circle cx="1310.0" cy="1071.4" r="12"/><circle cx="1316.0" cy="1074.8" r="12"/><circle cx="1322.0" cy="1072.7" r="12"/><circle cx="1328.0" cy="1070.1" r="12"/><circle cx="1334.1" cy="1069.1" r="12"/><circle cx="1340.2" cy="1074.7" r="12"/><circle cx="1346.3" cy="1074.3" r="12"/><circle cx="1352.4" cy="1075.4" r="12"/><circle cx="1358.5" cy="1070.9" r="12"/><circle cx="1364.6" cy="1073.6" r="12"/><circle cx="1370.7" cy="1076.7" r="12"/><circle cx="1376.8" cy="1074.3" r="12"/><circle cx="1382.9" cy="1077.4" r="12"/><circle cx="1389.0" cy="1071.3" r="12"/><circle cx="1395.1" cy="1078.0" r="12"/><circle cx="1401.2" cy="1070.8" r="12"/><circle cx="1407.3" cy="1073.9" r="12"/><circle cx="1413.4" cy="1071.0" r="12"/><circle cx="1419.5" cy="1077.5" r="12"/><circle cx="1425.6" cy="1076.7" r="12"/><circle cx="1431.7" cy="1079.2" r="12"/><circle cx="1437.8" cy="1078.0" r="12"/><circle cx="1443.9" cy="1079.4" r="12"/><circle cx="1450.0" cy="1076.3" r="12"/><circle cx="1456.2" cy="1079.7" r="12"/><circle cx="1462.4" cy="1077.7" r="12"/><circle cx="1468.6" cy="1074.3" r="12"/><circle cx="1474.8" cy="1079.2" r="12"/><circle cx="1481.1" cy="1074.2" r="12"/><circle cx="1487.3" cy="1072.6" r="12"/><circle cx="1493.5" cy="1071.5" r="12"/><circle cx="1499.7" cy="1074.5" r="12"/><circle cx="1505.9" cy="1072.2" r="12"/><circle cx="1512.1" cy="1077.9" r="12"/><circle cx="1518.3" cy="1077.9" r="12"/><circle cx="1524.5" cy="1071.8" r="12"/><circle cx="1530.7" cy="1070.8" r="12"/><circle cx="1536.9" cy="1074.0" r="12"/><circle cx="1543.2" cy="1071.0" r="12"/><circle cx="1549.4" cy="1073.8" r="12"/><circle cx="1555.6" cy="1075.8" r="12"/><circle cx="1561.8" cy="1071.2" r="12"/><circle cx="1568.0" cy="1073.0" r="12"/></g>
<path d="M1568.0,1081.0 L1450.0,1084.0 L1328.0,1082.0 L1250.0,1085.0 L1130.5,1084.0 L1037.5,1086.0 L991.0,1084.0" fill="none" stroke="#008cc4" stroke-width="12.5" stroke-linejoin="round" stroke-linecap="round"/>
<g fill="#008cc4"><circle cx="1568.0" cy="1082.7" r="12"/><circle cx="1561.8" cy="1083.9" r="12"/><circle cx="1555.6" cy="1078.8" r="12"/><circle cx="1549.4" cy="1085.5" r="12"/><circle cx="1543.2" cy="1079.2" r="12"/><circle cx="1536.9" cy="1083.2" r="12"/><circle cx="1530.7" cy="1078.7" r="12"/><circle cx="1524.5" cy="1084.2" r="12"/><circle cx="1518.3" cy="1079.5" r="12"/><circle cx="1512.1" cy="1084.1" r="12"/><circle cx="1505.9" cy="1084.4" r="12"/><circle cx="1499.7" cy="1084.9" r="12"/><circle cx="1493.5" cy="1082.4" r="12"/><circle cx="1487.3" cy="1086.0" r="12"/><circle cx="1481.1" cy="1087.1" r="12"/><circle cx="1474.8" cy="1080.3" r="12"/><circle cx="1468.6" cy="1083.7" r="12"/><circle cx="1462.4" cy="1087.3" r="12"/><circle cx="1456.2" cy="1085.8" r="12"/><circle cx="1450.0" cy="1083.6" r="12"/><circle cx="1443.9" cy="1082.3" r="12"/><circle cx="1437.8" cy="1087.4" r="12"/><circle cx="1431.7" cy="1080.4" r="12"/><circle cx="1425.6" cy="1085.7" r="12"/><circle cx="1419.5" cy="1086.2" r="12"/><circle cx="1413.4" cy="1080.7" r="12"/><circle cx="1407.3" cy="1081.9" r="12"/><circle cx="1401.2" cy="1081.6" r="12"/><circle cx="1395.1" cy="1083.4" r="12"/><circle cx="1389.0" cy="1081.9" r="12"/><circle cx="1382.9" cy="1086.0" r="12"/><circle cx="1376.8" cy="1086.2" r="12"/><circle cx="1370.7" cy="1081.2" r="12"/><circle cx="1364.6" cy="1085.8" r="12"/><circle cx="1358.5" cy="1079.1" r="12"/><circle cx="1352.4" cy="1079.2" r="12"/><circle cx="1346.3" cy="1083.6" r="12"/><circle cx="1340.2" cy="1084.6" r="12"/><circle cx="1334.1" cy="1084.7" r="12"/><circle cx="1328.0" cy="1085.9" r="12"/><circle cx="1322.0" cy="1085.1" r="12"/><circle cx="1316.0" cy="1080.6" r="12"/><circle cx="1310.0" cy="1084.6" r="12"/><circle cx="1304.0" cy="1086.3" r="12"/><circle cx="1298.0" cy="1079.9" r="12"/><circle cx="1292.0" cy="1083.3" r="12"/><circle cx="1286.0" cy="1080.8" r="12"/><circle cx="1280.0" cy="1081.0" r="12"/><circle cx="1274.0" cy="1083.9" r="12"/><circle cx="1268.0" cy="1085.7" r="12"/><circle cx="1262.0" cy="1088.3" r="12"/><circle cx="1256.0" cy="1081.8" r="12"/><circle cx="1250.0" cy="1085.0" r="12"/><circle cx="1243.7" cy="1088.9" r="12"/><circle cx="1237.4" cy="1087.0" r="12"/><circle cx="1231.1" cy="1085.1" r="12"/><circle cx="1224.8" cy="1082.7" r="12"/><circle cx="1218.6" cy="1085.8" r="12"/><circle cx="1212.3" cy="1082.8" r="12"/><circle cx="1206.0" cy="1085.8" r="12"/><circle cx="1199.7" cy="1085.8" r="12"/><circle cx="1193.4" cy="1083.7" r="12"/><circle cx="1187.1" cy="1086.8" r="12"/><circle cx="1180.8" cy="1083.6" r="12"/><circle cx="1174.5" cy="1084.1" r="12"/><circle cx="1168.2" cy="1087.0" r="12"/><circle cx="1161.9" cy="1082.3" r="12"/><circle cx="1155.7" cy="1081.7" r="12"/><circle cx="1149.4" cy="1084.8" r="12"/><circle cx="1143.1" cy="1083.6" r="12"/><circle cx="1136.8" cy="1087.0" r="12"/><circle cx="1130.5" cy="1082.0" r="12"/><circle cx="1124.3" cy="1083.1" r="12"/><circle cx="1118.1" cy="1080.7" r="12"/><circle cx="1111.9" cy="1084.0" r="12"/><circle cx="1105.7" cy="1083.0" r="12"/><circle cx="1099.5" cy="1084.3" r="12"/><circle cx="1093.3" cy="1086.9" r="12"/><circle cx="1087.1" cy="1081.2" r="12"/><circle cx="1080.9" cy="1089.0" r="12"/><circle cx="1074.7" cy="1086.9" r="12"/><circle cx="1068.5" cy="1087.8" r="12"/><circle cx="1062.3" cy="1085.8" r="12"/><circle cx="1056.1" cy="1086.2" r="12"/><circle cx="1049.9" cy="1085.0" r="12"/><circle cx="1043.7" cy="1085.0" r="12"/><circle cx="1037.5" cy="1083.8" r="12"/><circle cx="1030.9" cy="1084.1" r="12"/><circle cx="1024.2" cy="1083.8" r="12"/><circle cx="1017.6" cy="1083.8" r="12"/><circle cx="1010.9" cy="1088.1" r="12"/><circle cx="1004.3" cy="1087.0" r="12"/><circle cx="997.6" cy="1085.4" r="12"/><circle cx="991.0" cy="1084.0" r="12"/></g>
<path d="M1125.0,1060.0 L1130.0,1056.0 L1135.0,1098.0" fill="none" stroke="#008cc4" stroke-width="12.5" stroke-linejoin="round" stroke-linecap="round"/>
<g fill="#008cc4"><circle cx="1125.0" cy="1060.0" r="12"/><circle cx="1130.0" cy="1056.0" r="12"/><circle cx="1135.0" cy="1098.0" r="12"/></g>
<path d="M1712.0,576.0 L1727.0,579.0 L1745.0,583.0 L1765.0,590.0 L1785.0,598.0 L1800.0,606.0 L1815.0,608.0 L1830.0,607.0 L1845.8,606.0 L1858.9,608.0 L1870.1,618.9 L1890.8,624.5 L1896.4,607.7 L1915.2,617.0 L1924.6,630.2 L1943.3,626.4 L1954.6,611.4 L1969.6,626.4 L1990.0,614.5 L2015.5,606.6 L2039.1,614.5 L2052.8,630.2 L2054.8,643.9 L2068.5,663.6 L2078.3,683.2 L2090.1,693.0 L2096.0,722.5 L2107.8,742.1 L2123.5,742.1 L2125.5,722.5 L2129.4,555.6 L2137.2,526.1 L2145.1,494.7 L2147.1,457.4 L2149.0,408.3 L2158.8,398.5 L2166.7,355.3 L2176.5,402.5 L2194.2,378.9 L2221.7,412.3 L2251.1,428.0 L2272.7,445.6 L2272.7,465.3 L2243.3,473.1 L2211.9,453.5 L2188.3,481.0 L2182.4,461.4 L2156.9,469.2 L2139.2,473.1 L2119.6,483.0 L2115.7,461.4 L2098.0,457.4 L2088.2,484.9 L2072.5,496.7 L2060.7,475.1 L2041.0,492.8 L2023.4,481.0 L2005.7,500.6 L1990.0,496.7 L1980.9,498.8 L1962.1,487.6 L1943.3,472.5 L1932.1,457.5 L1922.7,466.9 L1917.1,435.0 L1905.8,453.8 L1898.3,466.9 L1896.4,487.6 L1873.9,500.7 L1870.1,530.7 L1870.1,551.4 L1866.4,607.7 L1870.1,618.9 L1858.9,635.8 L1855.1,652.7 L1853.3,664.0 L1849.5,701.5 L1842.0,720.2 L1825.1,737.1 L1819.5,739.0 L1812.0,692.1 L1802.6,664.0 L1806.3,652.7 L1797.0,638.0 L1788.0,630.0 L1765.0,631.0 L1745.0,620.0 L1724.5,603.0 L1707.0,585.0 L1712.0,576.0" fill="none" stroke="#ff6e00" stroke-width="12.5" stroke-linejoin="round" stroke-linecap="round"/>
<g fill="#ff6e00"><circle cx="1712.0" cy="573.6" r="12.3"/><circle cx="1719.5" cy="575.6" r="12.3"/><circle cx="1727.0" cy="578.5" r="12.3"/><circle cx="1733.0" cy="581.3" r="12.3"/><circle cx="1739.0" cy="579.9" r="12.3"/><circle cx="1745.0" cy="581.1" r="12.3"/><circle cx="1751.7" cy="584.0" r="12.3"/><circle cx="1758.3" cy="589.0" r="12.3"/><circle cx="1765.0" cy="588.2" r="12.3"/><circle cx="1771.7" cy="593.9" r="12.3"/><circle cx="1778.3" cy="596.1" r="12.3"/><circle cx="1785.0" cy="596.2" r="12.3"/><circle cx="1792.5" cy="602.2" r="12.3"/><circle cx="1800.0" cy="605.7" r="12.3"/><circle cx="1807.5" cy="606.6" r="12.3"/><circle cx="1815.0" cy="610.5" r="12.3"/><circle cx="1822.5" cy="605.5" r="12.3"/><circle cx="1830.0" cy="604.6" r="12.3"/><circle cx="1837.9" cy="608.7" r="12.3"/><circle cx="1845.8" cy="605.5" r="12.3"/><circle cx="1852.3" cy="605.5" r="12.3"/><circle cx="1858.9" cy="607.2" r="12.3"/><circle cx="1870.1" cy="618.2" r="12.3"/><circle cx="1877.0" cy="623.0" r="12.3"/><circle cx="1883.9" cy="621.2" r="12.3"/><circle cx="1890.8" cy="623.1" r="12.3"/><circle cx="1896.4" cy="608.1" r="12.3"/><circle cx="1902.7" cy="611.0" r="12.3"/><circle cx="1908.9" cy="616.2" r="12.3"/><circle cx="1915.2" cy="618.7" r="12.3"/><circle cx="1924.6" cy="629.5" r="12.3"/><circle cx="1930.8" cy="627.5" r="12.3"/><circle cx="1937.1" cy="629.3" r="12.3"/><circle cx="1943.3" cy="628.8" r="12.3"/><circle cx="1954.6" cy="609.1" r="12.3"/><circle cx="1962.1" cy="620.1" r="12.3"/><circle cx="1969.6" cy="628.2" r="12.3"/><circle cx="1976.4" cy="623.2" r="12.3"/><circle cx="1983.2" cy="617.1" r="12.3"/><circle cx="1990.0" cy="616.0" r="12.3"/><circle cx="1996.4" cy="613.7" r="12.3"/><circle cx="2002.8" cy="609.0" r="12.3"/><circle cx="2009.1" cy="609.3" r="12.3"/><circle cx="2015.5" cy="605.2" r="12.3"/><circle cx="2023.4" cy="606.9" r="12.3"/><circle cx="2031.2" cy="611.0" r="12.3"/><circle cx="2039.1" cy="613.7" r="12.3"/><circle cx="2046.0" cy="621.8" r="12.3"/><circle cx="2052.8" cy="630.9" r="12.3"/><circle cx="2054.8" cy="645.6" r="12.3"/><circle cx="2061.7" cy="656.1" r="12.3"/><circle cx="2068.5" cy="666.0" r="12.3"/><circle cx="2078.3" cy="685.7" r="12.3"/><circle cx="2090.1" cy="694.4" r="12.3"/><circle cx="2096.0" cy="721.5" r="12.3"/><circle cx="2107.8" cy="740.5" r="12.3"/><circle cx="2115.7" cy="742.7" r="12.3"/><circle cx="2123.5" cy="742.3" r="12.3"/><circle cx="2125.5" cy="723.4" r="12.3"/><circle cx="2129.4" cy="553.6" r="12.3"/><circle cx="2137.2" cy="524.6" r="12.3"/><circle cx="2145.1" cy="496.8" r="12.3"/><circle cx="2147.1" cy="457.9" r="12.3"/><circle cx="2149.0" cy="409.3" r="12.3"/><circle cx="2158.8" cy="396.5" r="12.3"/><circle cx="2166.7" cy="354.8" r="12.3"/><circle cx="2176.5" cy="404.6" r="12.3"/><circle cx="2185.3" cy="391.4" r="12.3"/><circle cx="2194.2" cy="381.4" r="12.3"/><circle cx="2201.1" cy="385.7" r="12.3"/><circle cx="2207.9" cy="395.4" r="12.3"/><circle cx="2214.8" cy="405.5" r="12.3"/><circle cx="2221.7" cy="412.0" r="12.3"/><circle cx="2229.0" cy="417.7" r="12.3"/><circle cx="2236.4" cy="420.5" r="12.3"/><circle cx="2243.8" cy="422.2" r="12.3"/><circle cx="2251.1" cy="426.0" r="12.3"/><circle cx="2258.3" cy="436.3" r="12.3"/><circle cx="2265.5" cy="437.8" r="12.3"/><circle cx="2272.7" cy="444.1" r="12.3"/><circle cx="2272.7" cy="464.5" r="12.3"/><circle cx="2265.3" cy="468.3" r="12.3"/><circle cx="2258.0" cy="471.0" r="12.3"/><circle cx="2250.7" cy="471.0" r="12.3"/><circle cx="2243.3" cy="473.1" r="12.3"/><circle cx="2237.0" cy="470.6" r="12.3"/><circle cx="2230.7" cy="464.2" r="12.3"/><circle cx="2224.5" cy="460.7" r="12.3"/><circle cx="2218.2" cy="458.0" r="12.3"/><circle cx="2211.9" cy="454.2" r="12.3"/><circle cx="2204.0" cy="460.4" r="12.3"/><circle cx="2196.2" cy="469.9" r="12.3"/><circle cx="2188.3" cy="479.2" r="12.3"/><circle cx="2182.4" cy="462.5" r="12.3"/><circle cx="2176.0" cy="464.3" r="12.3"/><circle cx="2169.7" cy="467.7" r="12.3"/><circle cx="2163.3" cy="468.6" r="12.3"/><circle cx="2156.9" cy="468.0" r="12.3"/><circle cx="2148.1" cy="472.5" r="12.3"/><circle cx="2139.2" cy="475.5" r="12.3"/><circle cx="2132.7" cy="475.6" r="12.3"/><circle cx="2126.1" cy="477.3" r="12.3"/><circle cx="2119.6" cy="482.4" r="12.3"/><circle cx="2115.7" cy="460.3" r="12.3"/><circle cx="2106.8" cy="457.8" r="12.3"/><circle cx="2098.0" cy="455.1" r="12.3"/><circle cx="2088.2" cy="483.0" r="12.3"/><circle cx="2080.3" cy="492.6" r="12.3"/><circle cx="2072.5" cy="494.4" r="12.3"/><circle cx="2060.7" cy="475.7" r="12.3"/><circle cx="2054.1" cy="479.5" r="12.3"/><circle cx="2047.6" cy="485.4" r="12.3"/><circle cx="2041.0" cy="494.4" r="12.3"/><circle cx="2032.2" cy="485.9" r="12.3"/><circle cx="2023.4" cy="479.4" r="12.3"/><circle cx="2014.6" cy="490.6" r="12.3"/><circle cx="2005.7" cy="501.6" r="12.3"/><circle cx="1997.8" cy="498.8" r="12.3"/><circle cx="1990.0" cy="498.5" r="12.3"/><circle cx="1980.9" cy="498.3" r="12.3"/><circle cx="1974.6" cy="495.2" r="12.3"/><circle cx="1968.4" cy="492.4" r="12.3"/><circle cx="1962.1" cy="487.4" r="12.3"/><circle cx="1955.8" cy="483.7" r="12.3"/><circle cx="1949.6" cy="477.4" r="12.3"/><circle cx="1943.3" cy="470.7" r="12.3"/><circle cx="1932.1" cy="455.6" r="12.3"/><circle cx="1922.7" cy="468.3" r="12.3"/><circle cx="1917.1" cy="436.2" r="12.3"/><circle cx="1905.8" cy="456.0" r="12.3"/><circle cx="1898.3" cy="467.9" r="12.3"/><circle cx="1896.4" cy="488.0" r="12.3"/><circle cx="1888.9" cy="490.3" r="12.3"/><circle cx="1881.4" cy="498.1" r="12.3"/><circle cx="1873.9" cy="498.8" r="12.3"/><circle cx="1870.1" cy="530.3" r="12.3"/><circle cx="1870.1" cy="549.6" r="12.3"/><circle cx="1866.4" cy="607.1" r="12.3"/><circle cx="1870.1" cy="617.9" r="12.3"/><circle cx="1858.9" cy="635.4" r="12.3"/><circle cx="1855.1" cy="653.8" r="12.3"/><circle cx="1853.3" cy="664.2" r="12.3"/><circle cx="1849.5" cy="700.2" r="12.3"/><circle cx="1842.0" cy="721.6" r="12.3"/><circle cx="1833.5" cy="729.8" r="12.3"/><circle cx="1825.1" cy="738.7" r="12.3"/><circle cx="1819.5" cy="736.7" r="12.3"/><circle cx="1812.0" cy="692.7" r="12.3"/><circle cx="1802.6" cy="666.0" r="12.3"/><circle cx="1806.3" cy="651.5" r="12.3"/><circle cx="1797.0" cy="636.5" r="12.3"/><circle cx="1788.0" cy="631.6" r="12.3"/><circle cx="1780.3" cy="629.7" r="12.3"/><circle cx="1772.7" cy="630.2" r="12.3"/><circle cx="1765.0" cy="632.6" r="12.3"/><circle cx="1758.3" cy="626.8" r="12.3"/><circle cx="1751.7" cy="622.2" r="12.3"/><circle cx="1745.0" cy="618.6" r="12.3"/><circle cx="1738.2" cy="613.6" r="12.3"/><circle cx="1731.3" cy="609.7" r="12.3"/><circle cx="1724.5" cy="602.3" r="12.3"/><circle cx="1715.8" cy="595.4" r="12.3"/><circle cx="1707.0" cy="582.8" r="12.3"/><circle cx="1712.0" cy="576.0" r="12.3"/></g>
<path d="M1708.0,581.0 L1725.0,590.0 L1745.0,601.0 L1765.0,612.0 L1785.0,617.0 L1800.0,620.0" fill="none" stroke="#ff6e00" stroke-width="12.5" stroke-linejoin="round" stroke-linecap="round"/>
<g fill="#ff6e00"><circle cx="1708.0" cy="581.1" r="12.3"/><circle cx="1716.5" cy="585.8" r="12.3"/><circle cx="1725.0" cy="591.4" r="12.3"/><circle cx="1731.7" cy="595.3" r="12.3"/><circle cx="1738.3" cy="598.9" r="12.3"/><circle cx="1745.0" cy="600.5" r="12.3"/><circle cx="1751.7" cy="606.5" r="12.3"/><circle cx="1758.3" cy="608.0" r="12.3"/><circle cx="1765.0" cy="611.2" r="12.3"/><circle cx="1771.7" cy="612.0" r="12.3"/><circle cx="1778.3" cy="615.4" r="12.3"/><circle cx="1785.0" cy="615.6" r="12.3"/><circle cx="1792.5" cy="617.6" r="12.3"/><circle cx="1800.0" cy="620.0" r="12.3"/></g>
<path d="M1708.0,1288.8 L1800.0,1289.0 L1900.0,1289.0 L2059.9,1292.0 L2097.2,1297.0 L2105.4,1096.3 L2120.0,1003.1 L2126.1,1075.6 L2200.0,1078.0 L2275.2,1077.7" fill="none" stroke="#ff6e00" stroke-width="12.5" stroke-linejoin="round" stroke-linecap="round"/>
<g fill="#ff6e00"><circle cx="1708.0" cy="1286.7" r="12.3"/><circle cx="1714.1" cy="1287.4" r="12.3"/><circle cx="1720.3" cy="1287.8" r="12.3"/><circle cx="1726.4" cy="1290.8" r="12.3"/><circle cx="1732.5" cy="1288.8" r="12.3"/><circle cx="1738.7" cy="1290.0" r="12.3"/><circle cx="1744.8" cy="1286.9" r="12.3"/><circle cx="1750.9" cy="1288.9" r="12.3"/><circle cx="1757.1" cy="1290.6" r="12.3"/><circle cx="1763.2" cy="1289.0" r="12.3"/><circle cx="1769.3" cy="1291.2" r="12.3"/><circle cx="1775.5" cy="1290.9" r="12.3"/><circle cx="1781.6" cy="1288.3" r="12.3"/><circle cx="1787.7" cy="1286.5" r="12.3"/><circle cx="1793.9" cy="1290.3" r="12.3"/><circle cx="1800.0" cy="1287.1" r="12.3"/><circle cx="1806.2" cy="1286.5" r="12.3"/><circle cx="1812.5" cy="1290.2" r="12.3"/><circle cx="1818.8" cy="1290.7" r="12.3"/><circle cx="1825.0" cy="1290.7" r="12.3"/><circle cx="1831.2" cy="1291.3" r="12.3"/><circle cx="1837.5" cy="1287.5" r="12.3"/><circle cx="1843.8" cy="1286.9" r="12.3"/><circle cx="1850.0" cy="1287.1" r="12.3"/><circle cx="1856.2" cy="1291.4" r="12.3"/><circle cx="1862.5" cy="1287.1" r="12.3"/><circle cx="1868.8" cy="1287.3" r="12.3"/><circle cx="1875.0" cy="1286.6" r="12.3"/><circle cx="1881.2" cy="1286.7" r="12.3"/><circle cx="1887.5" cy="1286.7" r="12.3"/><circle cx="1893.8" cy="1288.3" r="12.3"/><circle cx="1900.0" cy="1287.3" r="12.3"/><circle cx="1906.2" cy="1288.2" r="12.3"/><circle cx="1912.3" cy="1291.4" r="12.3"/><circle cx="1918.5" cy="1287.7" r="12.3"/><circle cx="1924.6" cy="1291.0" r="12.3"/><circle cx="1930.8" cy="1290.8" r="12.3"/><circle cx="1936.9" cy="1290.0" r="12.3"/><circle cx="1943.0" cy="1290.2" r="12.3"/><circle cx="1949.2" cy="1291.3" r="12.3"/><circle cx="1955.4" cy="1290.5" r="12.3"/><circle cx="1961.5" cy="1288.8" r="12.3"/><circle cx="1967.7" cy="1289.4" r="12.3"/><circle cx="1973.8" cy="1289.1" r="12.3"/><circle cx="1980.0" cy="1290.0" r="12.3"/><circle cx="1986.1" cy="1293.1" r="12.3"/><circle cx="1992.2" cy="1290.4" r="12.3"/><circle cx="1998.4" cy="1288.7" r="12.3"/><circle cx="2004.5" cy="1290.8" r="12.3"/><circle cx="2010.7" cy="1292.6" r="12.3"/><circle cx="2016.9" cy="1290.9" r="12.3"/><circle cx="2023.0" cy="1292.3" r="12.3"/><circle cx="2029.2" cy="1289.4" r="12.3"/><circle cx="2035.3" cy="1289.4" r="12.3"/><circle cx="2041.5" cy="1292.5" r="12.3"/><circle cx="2047.6" cy="1289.5" r="12.3"/><circle cx="2053.8" cy="1290.9" r="12.3"/><circle cx="2059.9" cy="1291.4" r="12.3"/><circle cx="2066.1" cy="1291.3" r="12.3"/><circle cx="2072.3" cy="1291.3" r="12.3"/><circle cx="2078.6" cy="1292.0" r="12.3"/><circle cx="2084.8" cy="1297.6" r="12.3"/><circle cx="2091.0" cy="1297.1" r="12.3"/><circle cx="2097.2" cy="1299.3" r="12.3"/><circle cx="2105.4" cy="1096.3" r="12.3"/><circle cx="2112.7" cy="1052.0" r="12.3"/><circle cx="2120.0" cy="1004.9" r="12.3"/><circle cx="2126.1" cy="1076.2" r="12.3"/><circle cx="2132.3" cy="1075.9" r="12.3"/><circle cx="2138.4" cy="1076.0" r="12.3"/><circle cx="2144.6" cy="1074.8" r="12.3"/><circle cx="2150.7" cy="1075.8" r="12.3"/><circle cx="2156.9" cy="1077.7" r="12.3"/><circle cx="2163.1" cy="1075.3" r="12.3"/><circle cx="2169.2" cy="1078.7" r="12.3"/><circle cx="2175.4" cy="1077.2" r="12.3"/><circle cx="2181.5" cy="1077.9" r="12.3"/><circle cx="2187.7" cy="1079.2" r="12.3"/><circle cx="2193.8" cy="1078.5" r="12.3"/><circle cx="2200.0" cy="1076.2" r="12.3"/><circle cx="2206.3" cy="1076.7" r="12.3"/><circle cx="2212.5" cy="1075.5" r="12.3"/><circle cx="2218.8" cy="1075.6" r="12.3"/><circle cx="2225.1" cy="1080.2" r="12.3"/><circle cx="2231.3" cy="1078.3" r="12.3"/><circle cx="2237.6" cy="1080.2" r="12.3"/><circle cx="2243.9" cy="1079.2" r="12.3"/><circle cx="2250.1" cy="1076.9" r="12.3"/><circle cx="2256.4" cy="1080.1" r="12.3"/><circle cx="2262.7" cy="1079.9" r="12.3"/><circle cx="2268.9" cy="1077.5" r="12.3"/><circle cx="2275.2" cy="1077.7" r="12.3"/></g>
<path d="M2275.2,1078.7 L2126.0,1078.0 L2000.0,1078.0 L1873.6,1080.0 L1844.6,1059.0 L1832.2,1046.6 L1826.0,924.5 L1817.7,1311.6 L1815.0,1292.0 L1708.0,1290.8" fill="none" stroke="#ff6e00" stroke-width="12.5" stroke-linejoin="round" stroke-linecap="round"/>
<g fill="#ff6e00"><circle cx="2275.2" cy="1079.1" r="12.3"/><circle cx="2269.0" cy="1079.3" r="12.3"/><circle cx="2262.8" cy="1080.2" r="12.3"/><circle cx="2256.5" cy="1077.5" r="12.3"/><circle cx="2250.3" cy="1079.3" r="12.3"/><circle cx="2244.1" cy="1080.5" r="12.3"/><circle cx="2237.9" cy="1080.6" r="12.3"/><circle cx="2231.7" cy="1076.9" r="12.3"/><circle cx="2225.5" cy="1079.2" r="12.3"/><circle cx="2219.2" cy="1079.0" r="12.3"/><circle cx="2213.0" cy="1078.4" r="12.3"/><circle cx="2206.8" cy="1080.7" r="12.3"/><circle cx="2200.6" cy="1078.5" r="12.3"/><circle cx="2194.4" cy="1078.0" r="12.3"/><circle cx="2188.2" cy="1080.5" r="12.3"/><circle cx="2181.9" cy="1078.9" r="12.3"/><circle cx="2175.7" cy="1077.2" r="12.3"/><circle cx="2169.5" cy="1077.3" r="12.3"/><circle cx="2163.3" cy="1078.2" r="12.3"/><circle cx="2157.1" cy="1075.9" r="12.3"/><circle cx="2150.9" cy="1078.7" r="12.3"/><circle cx="2144.7" cy="1079.3" r="12.3"/><circle cx="2138.4" cy="1077.7" r="12.3"/><circle cx="2132.2" cy="1079.8" r="12.3"/><circle cx="2126.0" cy="1080.1" r="12.3"/><circle cx="2120.0" cy="1078.3" r="12.3"/><circle cx="2114.0" cy="1078.9" r="12.3"/><circle cx="2108.0" cy="1076.1" r="12.3"/><circle cx="2102.0" cy="1075.8" r="12.3"/><circle cx="2096.0" cy="1080.4" r="12.3"/><circle cx="2090.0" cy="1076.9" r="12.3"/><circle cx="2084.0" cy="1076.6" r="12.3"/><circle cx="2078.0" cy="1080.0" r="12.3"/><circle cx="2072.0" cy="1079.2" r="12.3"/><circle cx="2066.0" cy="1076.1" r="12.3"/><circle cx="2060.0" cy="1077.1" r="12.3"/><circle cx="2054.0" cy="1076.7" r="12.3"/><circle cx="2048.0" cy="1076.9" r="12.3"/><circle cx="2042.0" cy="1075.5" r="12.3"/><circle cx="2036.0" cy="1078.1" r="12.3"/><circle cx="2030.0" cy="1077.0" r="12.3"/><circle cx="2024.0" cy="1077.5" r="12.3"/><circle cx="2018.0" cy="1076.4" r="12.3"/><circle cx="2012.0" cy="1076.1" r="12.3"/><circle cx="2006.0" cy="1075.7" r="12.3"/><circle cx="2000.0" cy="1079.9" r="12.3"/><circle cx="1994.0" cy="1079.3" r="12.3"/><circle cx="1988.0" cy="1078.5" r="12.3"/><circle cx="1981.9" cy="1076.4" r="12.3"/><circle cx="1975.9" cy="1076.6" r="12.3"/><circle cx="1969.9" cy="1076.6" r="12.3"/><circle cx="1963.9" cy="1077.7" r="12.3"/><circle cx="1957.9" cy="1076.5" r="12.3"/><circle cx="1951.8" cy="1077.6" r="12.3"/><circle cx="1945.8" cy="1077.4" r="12.3"/><circle cx="1939.8" cy="1077.4" r="12.3"/><circle cx="1933.8" cy="1079.8" r="12.3"/><circle cx="1927.8" cy="1078.9" r="12.3"/><circle cx="1921.8" cy="1079.1" r="12.3"/><circle cx="1915.7" cy="1078.6" r="12.3"/><circle cx="1909.7" cy="1079.6" r="12.3"/><circle cx="1903.7" cy="1080.9" r="12.3"/><circle cx="1897.7" cy="1078.7" r="12.3"/><circle cx="1891.7" cy="1077.6" r="12.3"/><circle cx="1885.6" cy="1079.7" r="12.3"/><circle cx="1879.6" cy="1079.3" r="12.3"/><circle cx="1873.6" cy="1081.4" r="12.3"/><circle cx="1866.3" cy="1072.8" r="12.3"/><circle cx="1859.1" cy="1071.4" r="12.3"/><circle cx="1851.8" cy="1061.8" r="12.3"/><circle cx="1844.6" cy="1059.2" r="12.3"/><circle cx="1838.4" cy="1052.5" r="12.3"/><circle cx="1832.2" cy="1045.7" r="12.3"/><circle cx="1826.0" cy="926.4" r="12.3"/><circle cx="1817.7" cy="1312.6" r="12.3"/><circle cx="1815.0" cy="1290.3" r="12.3"/><circle cx="1808.7" cy="1291.9" r="12.3"/><circle cx="1802.4" cy="1292.4" r="12.3"/><circle cx="1796.1" cy="1289.5" r="12.3"/><circle cx="1789.8" cy="1289.7" r="12.3"/><circle cx="1783.5" cy="1292.2" r="12.3"/><circle cx="1777.2" cy="1292.7" r="12.3"/><circle cx="1770.9" cy="1291.3" r="12.3"/><circle cx="1764.6" cy="1291.0" r="12.3"/><circle cx="1758.4" cy="1291.4" r="12.3"/><circle cx="1752.1" cy="1290.1" r="12.3"/><circle cx="1745.8" cy="1293.1" r="12.3"/><circle cx="1739.5" cy="1293.5" r="12.3"/><circle cx="1733.2" cy="1291.0" r="12.3"/><circle cx="1726.9" cy="1288.6" r="12.3"/><circle cx="1720.6" cy="1290.4" r="12.3"/><circle cx="1714.3" cy="1292.4" r="12.3"/><circle cx="1708.0" cy="1290.8" r="12.3"/></g>
<line x1="661.2" y1="404.6" x2="589.9" y2="404.6" stroke="#999" stroke-width="2.6"/>
<path d="M554.4,404.6 L595.4,396.1 L589.9,404.6 L595.4,413.1 Z" fill="#000"/>
<line x1="515.3" y1="622.9" x2="571.3" y2="622.9" stroke="#222" stroke-width="3.0"/>
<path d="M606.8,622.9 L565.8,614.4 L571.3,622.9 L565.8,631.4 Z" fill="#000"/>
<line x1="504.7" y1="1110.8" x2="567.4" y2="1110.8" stroke="#222" stroke-width="3.0"/>
<path d="M602.9,1110.8 L561.9,1102.3 L567.4,1110.8 L561.9,1119.3 Z" fill="#000"/>
<line x1="633.9" y1="1236.2" x2="570.9" y2="1236.2" stroke="#222" stroke-width="3.0"/>
<path d="M535.4,1236.2 L576.4,1227.7 L570.9,1236.2 L576.4,1244.7 Z" fill="#000"/>
<line x1="1343.5" y1="594.9" x2="1286.0" y2="594.9" stroke="#777" stroke-width="2.6"/>
<path d="M1250.5,594.9 L1291.5,586.4 L1286.0,594.9 L1291.5,603.4 Z" fill="#000"/>
<line x1="1260.2" y1="763.4" x2="1311.9" y2="763.4" stroke="#222" stroke-width="3.0"/>
<path d="M1347.4,763.4 L1306.4,754.9 L1311.9,763.4 L1306.4,771.9 Z" fill="#000"/>
<line x1="2085.6" y1="392.3" x2="2022.9" y2="392.3" stroke="#999" stroke-width="2.6"/>
<path d="M1987.4,392.3 L2028.4,383.8 L2022.9,392.3 L2028.4,400.8 Z" fill="#000"/>
<line x1="1933.6" y1="677.2" x2="1986.3" y2="677.2" stroke="#222" stroke-width="3.0"/>
<path d="M2021.8,677.2 L1980.8,668.7 L1986.3,677.2 L1980.8,685.7 Z" fill="#000"/>
<line x1="2059.1" y1="1116.2" x2="1989.8" y2="1116.2" stroke="#999" stroke-width="2.6"/>
<path d="M1954.3,1116.2 L1995.3,1107.7 L1989.8,1116.2 L1995.3,1124.7 Z" fill="#000"/>
<line x1="1925.3" y1="1243.3" x2="1984.2" y2="1243.3" stroke="#222" stroke-width="3.0"/>
<path d="M2019.7,1243.3 L1978.7,1234.8 L1984.2,1243.3 L1978.7,1251.8 Z" fill="#000"/>
<line x1="1447.6" y1="129.9" x2="1407.9" y2="176.3" stroke="#555" stroke-width="2.4"/>
<line x1="1817.8" y1="125.8" x2="1860.4" y2="176.7" stroke="#555" stroke-width="2.4"/>
<g><rect x="269.1" y="1936.2" width="5.8" height="378.6" fill="#dfe4e9"/><rect x="300.3" y="1945.5" width="5.8" height="369.3" fill="#dfe4e9"/><rect x="331.5" y="1952.7" width="5.8" height="389.1" fill="#dfe4e9"/><rect x="362.7" y="1952.7" width="5.8" height="348.5" fill="#dfe4e9"/><rect x="393.9" y="1945.8" width="5.8" height="346.7" fill="#dfe4e9"/><rect x="425.1" y="1932.7" width="5.8" height="359.8" fill="#dfe4e9"/><rect x="456.2" y="1942.0" width="5.8" height="359.2" fill="#dfe4e9"/><rect x="487.4" y="1942.0" width="5.8" height="359.2" fill="#dfe4e9"/><rect x="518.6" y="1932.4" width="5.8" height="270.7" fill="#dfe4e9"/><rect x="549.8" y="1966.7" width="5.8" height="236.4" fill="#dfe4e9"/><rect x="581.0" y="1966.7" width="5.8" height="334.5" fill="#dfe4e9"/><rect x="612.2" y="1936.2" width="5.8" height="365.0" fill="#dfe4e9"/><rect x="244.5" y="1937.0" width="23.8" height="195.9" fill="#ce5a9c" stroke="#1a0a00" stroke-width="1.6"/><rect x="244.5" y="2132.9" width="23.8" height="187.5" fill="#d98280" stroke="#1a0a00" stroke-width="1.6"/><rect x="275.7" y="1933.2" width="23.8" height="199.7" fill="#ce5a9c" stroke="#1a0a00" stroke-width="1.6"/><rect x="275.7" y="2132.9" width="23.8" height="181.1" fill="#d98280" stroke="#1a0a00" stroke-width="1.6"/><rect x="306.9" y="1946.3" width="23.8" height="186.6" fill="#ce5a9c" stroke="#1a0a00" stroke-width="1.6"/><rect x="306.9" y="2132.9" width="23.8" height="215.3" fill="#d98280" stroke="#1a0a00" stroke-width="1.6"/><rect x="338.1" y="1953.5" width="23.8" height="179.4" fill="#ce5a9c" stroke="#1a0a00" stroke-width="1.6"/><rect x="338.1" y="2132.9" width="23.8" height="208.1" fill="#d98280" stroke="#1a0a00" stroke-width="1.6"/><rect x="369.3" y="1946.6" width="23.8" height="186.3" fill="#ce5a9c" stroke="#1a0a00" stroke-width="1.6"/><rect x="369.3" y="2132.9" width="23.8" height="167.5" fill="#d98280" stroke="#1a0a00" stroke-width="1.6"/><rect x="400.5" y="1911.8" width="23.8" height="221.1" fill="#ce5a9c" stroke="#1a0a00" stroke-width="1.6"/><rect x="400.5" y="2132.9" width="23.8" height="158.8" fill="#d98280" stroke="#1a0a00" stroke-width="1.6"/><rect x="431.6" y="1933.5" width="23.8" height="199.4" fill="#ce5a9c" stroke="#1a0a00" stroke-width="1.6"/><rect x="431.6" y="2132.9" width="23.8" height="200.0" fill="#d98280" stroke="#1a0a00" stroke-width="1.6"/><rect x="462.8" y="1942.8" width="23.8" height="190.1" fill="#ce5a9c" stroke="#1a0a00" stroke-width="1.6"/><rect x="462.8" y="2132.9" width="23.8" height="167.5" fill="#d98280" stroke="#1a0a00" stroke-width="1.6"/><rect x="494.0" y="1928.9" width="23.8" height="204.0" fill="#ce5a9c" stroke="#1a0a00" stroke-width="1.6"/><rect x="494.0" y="2132.9" width="23.8" height="173.0" fill="#d98280" stroke="#1a0a00" stroke-width="1.6"/><rect x="525.2" y="1933.2" width="23.8" height="199.7" fill="#ce5a9c" stroke="#1a0a00" stroke-width="1.6"/><rect x="525.2" y="2132.9" width="23.8" height="69.4" fill="#d98280" stroke="#1a0a00" stroke-width="1.6"/><rect x="556.4" y="1967.5" width="23.8" height="165.4" fill="#ce5a9c" stroke="#1a0a00" stroke-width="1.6"/><rect x="556.4" y="2132.9" width="23.8" height="167.5" fill="#d98280" stroke="#1a0a00" stroke-width="1.6"/><rect x="587.6" y="1933.2" width="23.8" height="199.7" fill="#ce5a9c" stroke="#1a0a00" stroke-width="1.6"/><rect x="587.6" y="2132.9" width="23.8" height="167.5" fill="#d98280" stroke="#1a0a00" stroke-width="1.6"/><rect x="618.8" y="1937.0" width="23.8" height="195.9" fill="#ce5a9c" stroke="#1a0a00" stroke-width="1.6"/><rect x="618.8" y="2132.9" width="23.8" height="187.5" fill="#d98280" stroke="#1a0a00" stroke-width="1.6"/></g>
<line x1="220.4" y1="2132.9" x2="667.7" y2="2132.9" stroke="#333" stroke-width="2"/>
<rect x="220.4" y="1819.5" width="447.3" height="627.5" fill="none" stroke="#111" stroke-width="6.2"/>
<line x1="256.4" y1="1819.5" x2="256.4" y2="1828.5" stroke="#111" stroke-width="5.0"/>
<line x1="256.4" y1="2447.0" x2="256.4" y2="2438.0" stroke="#111" stroke-width="5.0"/>
<line x1="287.6" y1="1819.5" x2="287.6" y2="1828.5" stroke="#111" stroke-width="5.0"/>
<line x1="287.6" y1="2447.0" x2="287.6" y2="2438.0" stroke="#111" stroke-width="5.0"/>
<line x1="318.8" y1="1819.5" x2="318.8" y2="1828.5" stroke="#111" stroke-width="5.0"/>
<line x1="318.8" y1="2447.0" x2="318.8" y2="2438.0" stroke="#111" stroke-width="5.0"/>
<line x1="350.0" y1="1819.5" x2="350.0" y2="1828.5" stroke="#111" stroke-width="5.0"/>
<line x1="350.0" y1="2447.0" x2="350.0" y2="2438.0" stroke="#111" stroke-width="5.0"/>
<line x1="381.2" y1="1819.5" x2="381.2" y2="1828.5" stroke="#111" stroke-width="5.0"/>
<line x1="381.2" y1="2447.0" x2="381.2" y2="2438.0" stroke="#111" stroke-width="5.0"/>
<line x1="412.4" y1="1819.5" x2="412.4" y2="1828.5" stroke="#111" stroke-width="5.0"/>
<line x1="412.4" y1="2447.0" x2="412.4" y2="2438.0" stroke="#111" stroke-width="5.0"/>
<line x1="443.5" y1="1819.5" x2="443.5" y2="1828.5" stroke="#111" stroke-width="5.0"/>
<line x1="443.5" y1="2447.0" x2="443.5" y2="2438.0" stroke="#111" stroke-width="5.0"/>
<line x1="474.7" y1="1819.5" x2="474.7" y2="1828.5" stroke="#111" stroke-width="5.0"/>
<line x1="474.7" y1="2447.0" x2="474.7" y2="2438.0" stroke="#111" stroke-width="5.0"/>
<line x1="505.9" y1="1819.5" x2="505.9" y2="1828.5" stroke="#111" stroke-width="5.0"/>
<line x1="505.9" y1="2447.0" x2="505.9" y2="2438.0" stroke="#111" stroke-width="5.0"/>
<line x1="537.1" y1="1819.5" x2="537.1" y2="1828.5" stroke="#111" stroke-width="5.0"/>
<line x1="537.1" y1="2447.0" x2="537.1" y2="2438.0" stroke="#111" stroke-width="5.0"/>
<line x1="568.3" y1="1819.5" x2="568.3" y2="1828.5" stroke="#111" stroke-width="5.0"/>
<line x1="568.3" y1="2447.0" x2="568.3" y2="2438.0" stroke="#111" stroke-width="5.0"/>
<line x1="599.5" y1="1819.5" x2="599.5" y2="1828.5" stroke="#111" stroke-width="5.0"/>
<line x1="599.5" y1="2447.0" x2="599.5" y2="2438.0" stroke="#111" stroke-width="5.0"/>
<line x1="630.7" y1="1819.5" x2="630.7" y2="1828.5" stroke="#111" stroke-width="5.0"/>
<line x1="630.7" y1="2447.0" x2="630.7" y2="2438.0" stroke="#111" stroke-width="5.0"/>
<line x1="220.4" y1="1972.5" x2="229.4" y2="1972.5" stroke="#111" stroke-width="5.0"/>
<line x1="667.7" y1="1972.5" x2="658.7" y2="1972.5" stroke="#111" stroke-width="5.0"/>
<line x1="220.4" y1="2132.9" x2="229.4" y2="2132.9" stroke="#111" stroke-width="5.0"/>
<line x1="667.7" y1="2132.9" x2="658.7" y2="2132.9" stroke="#111" stroke-width="5.0"/>
<line x1="220.4" y1="2294.5" x2="229.4" y2="2294.5" stroke="#111" stroke-width="5.0"/>
<line x1="667.7" y1="2294.5" x2="658.7" y2="2294.5" stroke="#111" stroke-width="5.0"/>
<g><rect x="783.8" y="2010.1" width="5.7" height="287.0" fill="#dfe4e9"/><rect x="817.8" y="2016.7" width="5.7" height="136.9" fill="#dfe4e9"/><rect x="851.8" y="2016.7" width="5.7" height="136.9" fill="#dfe4e9"/><rect x="885.8" y="1960.8" width="5.7" height="332.8" fill="#dfe4e9"/><rect x="919.8" y="1960.8" width="5.7" height="332.8" fill="#dfe4e9"/><rect x="953.8" y="2010.1" width="5.7" height="287.6" fill="#dfe4e9"/><rect x="987.8" y="2010.1" width="5.7" height="314.6" fill="#dfe4e9"/><rect x="1021.8" y="1954.1" width="5.7" height="367.7" fill="#dfe4e9"/><rect x="1055.8" y="1967.2" width="5.7" height="354.6" fill="#dfe4e9"/><rect x="1089.8" y="2010.1" width="5.7" height="296.6" fill="#dfe4e9"/><rect x="1123.8" y="2010.1" width="5.7" height="296.6" fill="#dfe4e9"/><rect x="1157.8" y="1996.2" width="5.7" height="314.8" fill="#dfe4e9"/><rect x="1191.8" y="2029.5" width="5.7" height="281.5" fill="#dfe4e9"/><rect x="1225.8" y="2029.5" width="5.7" height="288.8" fill="#dfe4e9"/><rect x="1259.8" y="2010.1" width="5.7" height="304.4" fill="#dfe4e9"/><rect x="1293.8" y="1996.4" width="5.7" height="318.1" fill="#dfe4e9"/><rect x="1327.8" y="2037.6" width="5.7" height="290.8" fill="#dfe4e9"/><rect x="1361.8" y="2037.6" width="5.7" height="290.8" fill="#dfe4e9"/><rect x="1395.8" y="1947.1" width="5.7" height="371.2" fill="#dfe4e9"/><rect x="1429.8" y="2051.2" width="5.7" height="267.1" fill="#dfe4e9"/><rect x="1463.8" y="2113.0" width="5.7" height="209.6" fill="#dfe4e9"/><rect x="756.2" y="1997.2" width="26.7" height="137.6" fill="#ff7000" stroke="#1a0a00" stroke-width="1.6"/><rect x="756.2" y="2134.8" width="26.7" height="187.0" fill="#ff8c00" stroke="#1a0a00" stroke-width="1.6"/><rect x="790.2" y="2010.9" width="26.7" height="123.9" fill="#ff7000" stroke="#1a0a00" stroke-width="1.6"/><rect x="790.2" y="2134.8" width="26.7" height="161.5" fill="#ff8c00" stroke="#1a0a00" stroke-width="1.6"/><rect x="824.2" y="2017.5" width="26.7" height="117.3" fill="#ff7000" stroke="#1a0a00" stroke-width="1.6"/><rect x="824.2" y="2134.8" width="26.7" height="18.0" fill="#ff8c00" stroke="#1a0a00" stroke-width="1.6"/><rect x="858.2" y="1857.2" width="26.7" height="277.6" fill="#ff7000" stroke="#1a0a00" stroke-width="1.6"/><rect x="858.2" y="2134.8" width="26.7" height="158.0" fill="#ff8c00" stroke="#1a0a00" stroke-width="1.6"/><rect x="892.2" y="1961.6" width="26.7" height="173.2" fill="#ff7000" stroke="#1a0a00" stroke-width="1.6"/><rect x="892.2" y="2134.8" width="26.7" height="158.0" fill="#ff8c00" stroke="#1a0a00" stroke-width="1.6"/><rect x="926.2" y="1877.5" width="26.7" height="257.3" fill="#ff7000" stroke="#1a0a00" stroke-width="1.6"/><rect x="926.2" y="2134.8" width="26.7" height="162.1" fill="#ff8c00" stroke="#1a0a00" stroke-width="1.6"/><rect x="960.2" y="2010.9" width="26.7" height="123.9" fill="#ff7000" stroke="#1a0a00" stroke-width="1.6"/><rect x="960.2" y="2134.8" width="26.7" height="189.1" fill="#ff8c00" stroke="#1a0a00" stroke-width="1.6"/><rect x="994.2" y="1954.9" width="26.7" height="179.9" fill="#ff7000" stroke="#1a0a00" stroke-width="1.6"/><rect x="994.2" y="2134.8" width="26.7" height="199.2" fill="#ff8c00" stroke="#1a0a00" stroke-width="1.6"/><rect x="1028.2" y="1920.4" width="26.7" height="214.4" fill="#ff7000" stroke="#1a0a00" stroke-width="1.6"/><rect x="1028.2" y="2134.8" width="26.7" height="186.2" fill="#ff8c00" stroke="#1a0a00" stroke-width="1.6"/><rect x="1062.2" y="1968.0" width="26.7" height="166.8" fill="#ff7000" stroke="#1a0a00" stroke-width="1.6"/><rect x="1062.2" y="2134.8" width="26.7" height="196.3" fill="#ff8c00" stroke="#1a0a00" stroke-width="1.6"/><rect x="1096.2" y="2010.9" width="26.7" height="123.9" fill="#ff7000" stroke="#1a0a00" stroke-width="1.6"/><rect x="1096.2" y="2134.8" width="26.7" height="171.1" fill="#ff8c00" stroke="#1a0a00" stroke-width="1.6"/><rect x="1130.2" y="1954.3" width="26.7" height="180.5" fill="#ff7000" stroke="#1a0a00" stroke-width="1.6"/><rect x="1130.2" y="2134.8" width="26.7" height="178.9" fill="#ff8c00" stroke="#1a0a00" stroke-width="1.6"/><rect x="1164.2" y="1997.0" width="26.7" height="137.8" fill="#ff7000" stroke="#1a0a00" stroke-width="1.6"/><rect x="1164.2" y="2134.8" width="26.7" height="175.4" fill="#ff8c00" stroke="#1a0a00" stroke-width="1.6"/><rect x="1198.2" y="2030.3" width="26.7" height="104.5" fill="#ff7000" stroke="#1a0a00" stroke-width="1.6"/><rect x="1198.2" y="2134.8" width="26.7" height="182.7" fill="#ff8c00" stroke="#1a0a00" stroke-width="1.6"/><rect x="1232.2" y="2010.9" width="26.7" height="123.9" fill="#ff7000" stroke="#1a0a00" stroke-width="1.6"/><rect x="1232.2" y="2134.8" width="26.7" height="182.7" fill="#ff8c00" stroke="#1a0a00" stroke-width="1.6"/><rect x="1266.2" y="1997.2" width="26.7" height="137.6" fill="#ff7000" stroke="#1a0a00" stroke-width="1.6"/><rect x="1266.2" y="2134.8" width="26.7" height="178.9" fill="#ff8c00" stroke="#1a0a00" stroke-width="1.6"/><rect x="1300.2" y="1968.2" width="26.7" height="166.6" fill="#ff7000" stroke="#1a0a00" stroke-width="1.6"/><rect x="1300.2" y="2134.8" width="26.7" height="199.2" fill="#ff8c00" stroke="#1a0a00" stroke-width="1.6"/><rect x="1334.2" y="2038.4" width="26.7" height="96.4" fill="#ff7000" stroke="#1a0a00" stroke-width="1.6"/><rect x="1334.2" y="2134.8" width="26.7" height="192.8" fill="#ff8c00" stroke="#1a0a00" stroke-width="1.6"/><rect x="1368.2" y="1947.9" width="26.7" height="186.9" fill="#ff7000" stroke="#1a0a00" stroke-width="1.6"/><rect x="1368.2" y="2134.8" width="26.7" height="205.6" fill="#ff8c00" stroke="#1a0a00" stroke-width="1.6"/><rect x="1402.2" y="1937.8" width="26.7" height="197.0" fill="#ff7000" stroke="#1a0a00" stroke-width="1.6"/><rect x="1402.2" y="2134.8" width="26.7" height="182.7" fill="#ff8c00" stroke="#1a0a00" stroke-width="1.6"/><rect x="1436.2" y="2052.0" width="26.7" height="82.8" fill="#ff7000" stroke="#1a0a00" stroke-width="1.6"/><rect x="1436.2" y="2134.8" width="26.7" height="192.8" fill="#ff8c00" stroke="#1a0a00" stroke-width="1.6"/><rect x="1470.2" y="2113.8" width="26.7" height="21.0" fill="#ff7000" stroke="#1a0a00" stroke-width="1.6"/><rect x="1470.2" y="2134.8" width="26.7" height="187.0" fill="#ff8c00" stroke="#1a0a00" stroke-width="1.6"/></g>
<line x1="730.0" y1="2134.8" x2="1523.5" y2="2134.8" stroke="#333" stroke-width="2"/>
<rect x="730.0" y="1821.0" width="793.5" height="626.8" fill="none" stroke="#111" stroke-width="6.2"/>
<line x1="735.6" y1="1821.0" x2="735.6" y2="1830.0" stroke="#111" stroke-width="5.0"/>
<line x1="735.6" y1="2447.8" x2="735.6" y2="2438.8" stroke="#111" stroke-width="5.0"/>
<line x1="905.6" y1="1821.0" x2="905.6" y2="1830.0" stroke="#111" stroke-width="5.0"/>
<line x1="905.6" y1="2447.8" x2="905.6" y2="2438.8" stroke="#111" stroke-width="5.0"/>
<line x1="1075.6" y1="1821.0" x2="1075.6" y2="1830.0" stroke="#111" stroke-width="5.0"/>
<line x1="1075.6" y1="2447.8" x2="1075.6" y2="2438.8" stroke="#111" stroke-width="5.0"/>
<line x1="1245.6" y1="1821.0" x2="1245.6" y2="1830.0" stroke="#111" stroke-width="5.0"/>
<line x1="1245.6" y1="2447.8" x2="1245.6" y2="2438.8" stroke="#111" stroke-width="5.0"/>
<line x1="1415.6" y1="1821.0" x2="1415.6" y2="1830.0" stroke="#111" stroke-width="5.0"/>
<line x1="1415.6" y1="2447.8" x2="1415.6" y2="2438.8" stroke="#111" stroke-width="5.0"/>
<line x1="730.0" y1="1973.2" x2="739.0" y2="1973.2" stroke="#111" stroke-width="5.0"/>
<line x1="1523.5" y1="1973.2" x2="1514.5" y2="1973.2" stroke="#111" stroke-width="5.0"/>
<line x1="730.0" y1="2134.8" x2="739.0" y2="2134.8" stroke="#111" stroke-width="5.0"/>
<line x1="1523.5" y1="2134.8" x2="1514.5" y2="2134.8" stroke="#111" stroke-width="5.0"/>
<line x1="730.0" y1="2295.7" x2="739.0" y2="2295.7" stroke="#111" stroke-width="5.0"/>
<line x1="1523.5" y1="2295.7" x2="1514.5" y2="2295.7" stroke="#111" stroke-width="5.0"/>
<g><rect x="1629.6" y="2091.8" width="6.2" height="121.8" fill="#dfe4e9"/><rect x="1661.1" y="2016.4" width="6.2" height="353.2" fill="#dfe4e9"/><rect x="1692.5" y="2016.4" width="6.2" height="281.6" fill="#dfe4e9"/><rect x="1724.0" y="1952.7" width="6.2" height="320.3" fill="#dfe4e9"/><rect x="1755.4" y="1952.7" width="6.2" height="320.3" fill="#dfe4e9"/><rect x="1786.8" y="2002.0" width="6.2" height="288.5" fill="#dfe4e9"/><rect x="1818.3" y="2037.6" width="6.2" height="221.8" fill="#dfe4e9"/><rect x="1849.7" y="2048.3" width="6.2" height="185.0" fill="#dfe4e9"/><rect x="1881.2" y="2057.9" width="6.2" height="93.4" fill="#dfe4e9"/><rect x="1912.6" y="2057.9" width="6.2" height="93.4" fill="#dfe4e9"/><rect x="1944.0" y="1960.8" width="6.2" height="305.3" fill="#dfe4e9"/><rect x="1975.5" y="1953.5" width="6.2" height="332.9" fill="#dfe4e9"/><rect x="2006.9" y="1960.8" width="6.2" height="374.0" fill="#dfe4e9"/><rect x="2038.4" y="1960.8" width="6.2" height="380.4" fill="#dfe4e9"/><rect x="2069.8" y="1960.8" width="6.2" height="311.7" fill="#dfe4e9"/><rect x="2101.2" y="2016.4" width="6.2" height="159.5" fill="#dfe4e9"/><rect x="2132.7" y="2016.4" width="6.2" height="159.5" fill="#dfe4e9"/><rect x="2164.1" y="2042.5" width="6.2" height="174.3" fill="#dfe4e9"/><rect x="2195.6" y="2042.5" width="6.2" height="214.0" fill="#dfe4e9"/><rect x="2227.0" y="2002.0" width="6.2" height="264.1" fill="#dfe4e9"/><rect x="2258.4" y="2002.0" width="6.2" height="288.5" fill="#dfe4e9"/><rect x="2289.9" y="1996.2" width="6.2" height="269.9" fill="#dfe4e9"/><rect x="2321.3" y="2016.4" width="6.2" height="205.3" fill="#dfe4e9"/><rect x="1605.2" y="2092.6" width="23.6" height="42.2" fill="#ff7000" stroke="#1a0a00" stroke-width="1.6"/><rect x="1605.2" y="2134.8" width="23.6" height="78.0" fill="#ff8c00" stroke="#1a0a00" stroke-width="1.6"/><rect x="1636.7" y="1954.3" width="23.6" height="180.5" fill="#ff7000" stroke="#1a0a00" stroke-width="1.6"/><rect x="1636.7" y="2134.8" width="23.6" height="241.3" fill="#ff8c00" stroke="#1a0a00" stroke-width="1.6"/><rect x="1668.1" y="2017.2" width="23.6" height="117.6" fill="#ff7000" stroke="#1a0a00" stroke-width="1.6"/><rect x="1668.1" y="2134.8" width="23.6" height="234.0" fill="#ff8c00" stroke="#1a0a00" stroke-width="1.6"/><rect x="1699.6" y="1940.4" width="23.6" height="194.4" fill="#ff7000" stroke="#1a0a00" stroke-width="1.6"/><rect x="1699.6" y="2134.8" width="23.6" height="162.4" fill="#ff8c00" stroke="#1a0a00" stroke-width="1.6"/><rect x="1731.0" y="1953.5" width="23.6" height="181.3" fill="#ff7000" stroke="#1a0a00" stroke-width="1.6"/><rect x="1731.0" y="2134.8" width="23.6" height="137.4" fill="#ff8c00" stroke="#1a0a00" stroke-width="1.6"/><rect x="1762.4" y="1912.9" width="23.6" height="221.9" fill="#ff7000" stroke="#1a0a00" stroke-width="1.6"/><rect x="1762.4" y="2134.8" width="23.6" height="171.7" fill="#ff8c00" stroke="#1a0a00" stroke-width="1.6"/><rect x="1793.9" y="2002.8" width="23.6" height="132.0" fill="#ff7000" stroke="#1a0a00" stroke-width="1.6"/><rect x="1793.9" y="2134.8" width="23.6" height="154.9" fill="#ff8c00" stroke="#1a0a00" stroke-width="1.6"/><rect x="1825.3" y="2038.4" width="23.6" height="96.4" fill="#ff7000" stroke="#1a0a00" stroke-width="1.6"/><rect x="1825.3" y="2134.8" width="23.6" height="123.8" fill="#ff8c00" stroke="#1a0a00" stroke-width="1.6"/><rect x="1856.8" y="2049.1" width="23.6" height="85.7" fill="#ff7000" stroke="#1a0a00" stroke-width="1.6"/><rect x="1856.8" y="2134.8" width="23.6" height="97.7" fill="#ff8c00" stroke="#1a0a00" stroke-width="1.6"/><rect x="1888.2" y="2058.7" width="23.6" height="76.1" fill="#ff7000" stroke="#1a0a00" stroke-width="1.6"/><rect x="1888.2" y="2134.8" width="23.6" height="15.7" fill="#ff8c00" stroke="#1a0a00" stroke-width="1.6"/><rect x="1919.6" y="1961.6" width="23.6" height="173.2" fill="#ff7000" stroke="#1a0a00" stroke-width="1.6"/><rect x="1919.6" y="2134.8" width="23.6" height="130.5" fill="#ff8c00" stroke="#1a0a00" stroke-width="1.6"/><rect x="1951.1" y="1892.6" width="23.6" height="242.2" fill="#ff7000" stroke="#1a0a00" stroke-width="1.6"/><rect x="1951.1" y="2134.8" width="23.6" height="150.8" fill="#ff8c00" stroke="#1a0a00" stroke-width="1.6"/><rect x="1982.5" y="1954.3" width="23.6" height="180.5" fill="#ff7000" stroke="#1a0a00" stroke-width="1.6"/><rect x="1982.5" y="2134.8" width="23.6" height="199.2" fill="#ff8c00" stroke="#1a0a00" stroke-width="1.6"/><rect x="2014.0" y="1961.6" width="23.6" height="173.2" fill="#ff7000" stroke="#1a0a00" stroke-width="1.6"/><rect x="2014.0" y="2134.8" width="23.6" height="216.6" fill="#ff8c00" stroke="#1a0a00" stroke-width="1.6"/><rect x="2045.4" y="1961.6" width="23.6" height="173.2" fill="#ff7000" stroke="#1a0a00" stroke-width="1.6"/><rect x="2045.4" y="2134.8" width="23.6" height="205.6" fill="#ff8c00" stroke="#1a0a00" stroke-width="1.6"/><rect x="2076.8" y="1952.9" width="23.6" height="181.9" fill="#ff7000" stroke="#1a0a00" stroke-width="1.6"/><rect x="2076.8" y="2134.8" width="23.6" height="136.9" fill="#ff8c00" stroke="#1a0a00" stroke-width="1.6"/><rect x="2108.3" y="2017.2" width="23.6" height="117.6" fill="#ff7000" stroke="#1a0a00" stroke-width="1.6"/><rect x="2108.3" y="2134.8" width="23.6" height="40.3" fill="#ff8c00" stroke="#1a0a00" stroke-width="1.6"/><rect x="2139.7" y="1961.6" width="23.6" height="173.2" fill="#ff7000" stroke="#1a0a00" stroke-width="1.6"/><rect x="2139.7" y="2134.8" width="23.6" height="81.2" fill="#ff8c00" stroke="#1a0a00" stroke-width="1.6"/><rect x="2171.2" y="2043.3" width="23.6" height="91.5" fill="#ff7000" stroke="#1a0a00" stroke-width="1.6"/><rect x="2171.2" y="2134.8" width="23.6" height="120.9" fill="#ff8c00" stroke="#1a0a00" stroke-width="1.6"/><rect x="2202.6" y="1952.9" width="23.6" height="181.9" fill="#ff7000" stroke="#1a0a00" stroke-width="1.6"/><rect x="2202.6" y="2134.8" width="23.6" height="130.5" fill="#ff8c00" stroke="#1a0a00" stroke-width="1.6"/><rect x="2234.0" y="2002.8" width="23.6" height="132.0" fill="#ff7000" stroke="#1a0a00" stroke-width="1.6"/><rect x="2234.0" y="2134.8" width="23.6" height="154.9" fill="#ff8c00" stroke="#1a0a00" stroke-width="1.6"/><rect x="2265.5" y="1975.5" width="23.6" height="159.3" fill="#ff7000" stroke="#1a0a00" stroke-width="1.6"/><rect x="2265.5" y="2134.8" width="23.6" height="171.7" fill="#ff8c00" stroke="#1a0a00" stroke-width="1.6"/><rect x="2296.9" y="1997.0" width="23.6" height="137.8" fill="#ff7000" stroke="#1a0a00" stroke-width="1.6"/><rect x="2296.9" y="2134.8" width="23.6" height="130.5" fill="#ff8c00" stroke="#1a0a00" stroke-width="1.6"/><rect x="2328.4" y="2017.2" width="23.6" height="117.6" fill="#ff7000" stroke="#1a0a00" stroke-width="1.6"/><rect x="2328.4" y="2134.8" width="23.6" height="86.1" fill="#ff8c00" stroke="#1a0a00" stroke-width="1.6"/></g>
<line x1="1581.4" y1="2134.8" x2="2375.3" y2="2134.8" stroke="#333" stroke-width="2"/>
<rect x="1581.4" y="1820.5" width="793.9" height="627.0" fill="none" stroke="#111" stroke-width="6.2"/>
<line x1="1585.6" y1="1820.5" x2="1585.6" y2="1829.5" stroke="#111" stroke-width="5.0"/>
<line x1="1585.6" y1="2447.5" x2="1585.6" y2="2438.5" stroke="#111" stroke-width="5.0"/>
<line x1="1900.0" y1="1820.5" x2="1900.0" y2="1829.5" stroke="#111" stroke-width="5.0"/>
<line x1="1900.0" y1="2447.5" x2="1900.0" y2="2438.5" stroke="#111" stroke-width="5.0"/>
<line x1="2214.4" y1="1820.5" x2="2214.4" y2="1829.5" stroke="#111" stroke-width="5.0"/>
<line x1="2214.4" y1="2447.5" x2="2214.4" y2="2438.5" stroke="#111" stroke-width="5.0"/>
<line x1="1581.4" y1="1973.0" x2="1590.4" y2="1973.0" stroke="#111" stroke-width="5.0"/>
<line x1="2375.3" y1="1973.0" x2="2366.3" y2="1973.0" stroke="#111" stroke-width="5.0"/>
<line x1="1581.4" y1="2134.8" x2="1590.4" y2="2134.8" stroke="#111" stroke-width="5.0"/>
<line x1="2375.3" y1="2134.8" x2="2366.3" y2="2134.8" stroke="#111" stroke-width="5.0"/>
<line x1="1581.4" y1="2296.0" x2="1590.4" y2="2296.0" stroke="#111" stroke-width="5.0"/>
<line x1="2375.3" y1="2296.0" x2="2366.3" y2="2296.0" stroke="#111" stroke-width="5.0"/>
<g><rect x="269.1" y="2652.9" width="5.8" height="223.4" fill="#dfe4e9"/><rect x="300.3" y="2600.3" width="5.8" height="300.7" fill="#dfe4e9"/><rect x="331.5" y="2601.4" width="5.8" height="315.3" fill="#dfe4e9"/><rect x="362.7" y="2601.4" width="5.8" height="315.3" fill="#dfe4e9"/><rect x="393.9" y="2662.0" width="5.8" height="233.3" fill="#dfe4e9"/><rect x="425.1" y="2662.0" width="5.8" height="233.3" fill="#dfe4e9"/><rect x="456.2" y="2689.0" width="5.8" height="137.5" fill="#dfe4e9"/><rect x="487.4" y="2689.0" width="5.8" height="137.5" fill="#dfe4e9"/><rect x="518.6" y="2713.8" width="5.8" height="162.5" fill="#dfe4e9"/><rect x="549.8" y="2713.8" width="5.8" height="162.5" fill="#dfe4e9"/><rect x="581.0" y="2634.4" width="5.8" height="221.1" fill="#dfe4e9"/><rect x="612.2" y="2645.0" width="5.8" height="210.5" fill="#dfe4e9"/><rect x="244.5" y="2653.7" width="23.8" height="129.2" fill="#ce5a9c" stroke="#1a0a00" stroke-width="1.6"/><rect x="244.5" y="2782.9" width="23.8" height="92.6" fill="#d98280" stroke="#1a0a00" stroke-width="1.6"/><rect x="275.7" y="2596.0" width="23.8" height="186.9" fill="#ce5a9c" stroke="#1a0a00" stroke-width="1.6"/><rect x="275.7" y="2782.9" width="23.8" height="117.3" fill="#d98280" stroke="#1a0a00" stroke-width="1.6"/><rect x="306.9" y="2601.1" width="23.8" height="181.8" fill="#ce5a9c" stroke="#1a0a00" stroke-width="1.6"/><rect x="306.9" y="2782.9" width="23.8" height="159.4" fill="#d98280" stroke="#1a0a00" stroke-width="1.6"/><rect x="338.1" y="2602.2" width="23.8" height="180.7" fill="#ce5a9c" stroke="#1a0a00" stroke-width="1.6"/><rect x="338.1" y="2782.9" width="23.8" height="133.0" fill="#d98280" stroke="#1a0a00" stroke-width="1.6"/><rect x="369.3" y="2553.3" width="23.8" height="229.6" fill="#ce5a9c" stroke="#1a0a00" stroke-width="1.6"/><rect x="369.3" y="2782.9" width="23.8" height="133.0" fill="#d98280" stroke="#1a0a00" stroke-width="1.6"/><rect x="400.5" y="2662.8" width="23.8" height="120.1" fill="#ce5a9c" stroke="#1a0a00" stroke-width="1.6"/><rect x="400.5" y="2782.9" width="23.8" height="111.6" fill="#d98280" stroke="#1a0a00" stroke-width="1.6"/><rect x="431.6" y="2613.0" width="23.8" height="169.9" fill="#ce5a9c" stroke="#1a0a00" stroke-width="1.6"/><rect x="431.6" y="2782.9" width="23.8" height="123.0" fill="#d98280" stroke="#1a0a00" stroke-width="1.6"/><rect x="462.8" y="2689.8" width="23.8" height="93.1" fill="#ce5a9c" stroke="#1a0a00" stroke-width="1.6"/><rect x="462.8" y="2782.9" width="23.8" height="42.8" fill="#d98280" stroke="#1a0a00" stroke-width="1.6"/><rect x="494.0" y="2615.9" width="23.8" height="167.0" fill="#ce5a9c" stroke="#1a0a00" stroke-width="1.6"/><rect x="494.0" y="2782.9" width="23.8" height="113.6" fill="#d98280" stroke="#1a0a00" stroke-width="1.6"/><rect x="525.2" y="2714.6" width="23.8" height="68.3" fill="#ce5a9c" stroke="#1a0a00" stroke-width="1.6"/><rect x="525.2" y="2782.9" width="23.8" height="92.6" fill="#d98280" stroke="#1a0a00" stroke-width="1.6"/><rect x="556.4" y="2531.4" width="23.8" height="251.5" fill="#ce5a9c" stroke="#1a0a00" stroke-width="1.6"/><rect x="556.4" y="2782.9" width="23.8" height="152.0" fill="#d98280" stroke="#1a0a00" stroke-width="1.6"/><rect x="587.6" y="2635.2" width="23.8" height="147.7" fill="#ce5a9c" stroke="#1a0a00" stroke-width="1.6"/><rect x="587.6" y="2782.9" width="23.8" height="71.8" fill="#d98280" stroke="#1a0a00" stroke-width="1.6"/><rect x="618.8" y="2645.8" width="23.8" height="137.1" fill="#ce5a9c" stroke="#1a0a00" stroke-width="1.6"/><rect x="618.8" y="2782.9" width="23.8" height="92.6" fill="#d98280" stroke="#1a0a00" stroke-width="1.6"/></g>
<line x1="220.4" y1="2782.9" x2="667.3" y2="2782.9" stroke="#333" stroke-width="2"/>
<rect x="220.4" y="2481.0" width="446.9" height="602.9" fill="none" stroke="#111" stroke-width="6.2"/>
<line x1="256.4" y1="2481.0" x2="256.4" y2="2490.0" stroke="#111" stroke-width="5.0"/>
<line x1="256.4" y1="3083.9" x2="256.4" y2="3074.9" stroke="#111" stroke-width="5.0"/>
<line x1="287.6" y1="2481.0" x2="287.6" y2="2490.0" stroke="#111" stroke-width="5.0"/>
<line x1="287.6" y1="3083.9" x2="287.6" y2="3074.9" stroke="#111" stroke-width="5.0"/>
<line x1="318.8" y1="2481.0" x2="318.8" y2="2490.0" stroke="#111" stroke-width="5.0"/>
<line x1="318.8" y1="3083.9" x2="318.8" y2="3074.9" stroke="#111" stroke-width="5.0"/>
<line x1="350.0" y1="2481.0" x2="350.0" y2="2490.0" stroke="#111" stroke-width="5.0"/>
<line x1="350.0" y1="3083.9" x2="350.0" y2="3074.9" stroke="#111" stroke-width="5.0"/>
<line x1="381.2" y1="2481.0" x2="381.2" y2="2490.0" stroke="#111" stroke-width="5.0"/>
<line x1="381.2" y1="3083.9" x2="381.2" y2="3074.9" stroke="#111" stroke-width="5.0"/>
<line x1="412.4" y1="2481.0" x2="412.4" y2="2490.0" stroke="#111" stroke-width="5.0"/>
<line x1="412.4" y1="3083.9" x2="412.4" y2="3074.9" stroke="#111" stroke-width="5.0"/>
<line x1="443.5" y1="2481.0" x2="443.5" y2="2490.0" stroke="#111" stroke-width="5.0"/>
<line x1="443.5" y1="3083.9" x2="443.5" y2="3074.9" stroke="#111" stroke-width="5.0"/>
<line x1="474.7" y1="2481.0" x2="474.7" y2="2490.0" stroke="#111" stroke-width="5.0"/>
<line x1="474.7" y1="3083.9" x2="474.7" y2="3074.9" stroke="#111" stroke-width="5.0"/>
<line x1="505.9" y1="2481.0" x2="505.9" y2="2490.0" stroke="#111" stroke-width="5.0"/>
<line x1="505.9" y1="3083.9" x2="505.9" y2="3074.9" stroke="#111" stroke-width="5.0"/>
<line x1="537.1" y1="2481.0" x2="537.1" y2="2490.0" stroke="#111" stroke-width="5.0"/>
<line x1="537.1" y1="3083.9" x2="537.1" y2="3074.9" stroke="#111" stroke-width="5.0"/>
<line x1="568.3" y1="2481.0" x2="568.3" y2="2490.0" stroke="#111" stroke-width="5.0"/>
<line x1="568.3" y1="3083.9" x2="568.3" y2="3074.9" stroke="#111" stroke-width="5.0"/>
<line x1="599.5" y1="2481.0" x2="599.5" y2="2490.0" stroke="#111" stroke-width="5.0"/>
<line x1="599.5" y1="3083.9" x2="599.5" y2="3074.9" stroke="#111" stroke-width="5.0"/>
<line x1="630.7" y1="2481.0" x2="630.7" y2="2490.0" stroke="#111" stroke-width="5.0"/>
<line x1="630.7" y1="3083.9" x2="630.7" y2="3074.9" stroke="#111" stroke-width="5.0"/>
<line x1="220.4" y1="2581.8" x2="229.4" y2="2581.8" stroke="#111" stroke-width="5.0"/>
<line x1="667.3" y1="2581.8" x2="658.3" y2="2581.8" stroke="#111" stroke-width="5.0"/>
<line x1="220.4" y1="2681.4" x2="229.4" y2="2681.4" stroke="#111" stroke-width="5.0"/>
<line x1="667.3" y1="2681.4" x2="658.3" y2="2681.4" stroke="#111" stroke-width="5.0"/>
<line x1="220.4" y1="2782.9" x2="229.4" y2="2782.9" stroke="#111" stroke-width="5.0"/>
<line x1="667.3" y1="2782.9" x2="658.3" y2="2782.9" stroke="#111" stroke-width="5.0"/>
<line x1="220.4" y1="2884.0" x2="229.4" y2="2884.0" stroke="#111" stroke-width="5.0"/>
<line x1="667.3" y1="2884.0" x2="658.3" y2="2884.0" stroke="#111" stroke-width="5.0"/>
<line x1="220.4" y1="2983.5" x2="229.4" y2="2983.5" stroke="#111" stroke-width="5.0"/>
<line x1="667.3" y1="2983.5" x2="658.3" y2="2983.5" stroke="#111" stroke-width="5.0"/>
<g><rect x="775.7" y="2751.1" width="6.2" height="184.1" fill="#dfe4e9"/><rect x="807.1" y="2754.5" width="6.2" height="101.8" fill="#dfe4e9"/><rect x="838.4" y="2754.5" width="6.2" height="101.8" fill="#dfe4e9"/><rect x="869.8" y="2751.1" width="6.2" height="62.5" fill="#dfe4e9"/><rect x="901.2" y="2736.9" width="6.2" height="76.7" fill="#dfe4e9"/><rect x="932.6" y="2740.5" width="6.2" height="78.1" fill="#dfe4e9"/><rect x="964.0" y="2740.5" width="6.2" height="78.1" fill="#dfe4e9"/><rect x="995.3" y="2754.5" width="6.2" height="105.1" fill="#dfe4e9"/><rect x="1026.7" y="2754.5" width="6.2" height="136.1" fill="#dfe4e9"/><rect x="1058.1" y="2667.2" width="6.2" height="223.4" fill="#dfe4e9"/><rect x="1089.5" y="2737.7" width="6.2" height="189.7" fill="#dfe4e9"/><rect x="1120.9" y="2741.9" width="6.2" height="205.0" fill="#dfe4e9"/><rect x="1152.2" y="2741.9" width="6.2" height="145.0" fill="#dfe4e9"/><rect x="1183.6" y="2737.7" width="6.2" height="149.2" fill="#dfe4e9"/><rect x="1215.0" y="2748.3" width="6.2" height="150.6" fill="#dfe4e9"/><rect x="1246.4" y="2748.3" width="6.2" height="114.4" fill="#dfe4e9"/><rect x="1277.8" y="2745.3" width="6.2" height="117.4" fill="#dfe4e9"/><rect x="1309.1" y="2733.5" width="6.2" height="131.1" fill="#dfe4e9"/><rect x="1340.5" y="2733.5" width="6.2" height="90.1" fill="#dfe4e9"/><rect x="1371.9" y="2746.7" width="6.2" height="76.9" fill="#dfe4e9"/><rect x="1403.3" y="2746.7" width="6.2" height="35.7" fill="#dfe4e9"/><rect x="1434.7" y="2716.8" width="6.2" height="65.6" fill="#dfe4e9"/><rect x="1466.0" y="2749.4" width="6.2" height="33.0" fill="#dfe4e9"/><rect x="751.3" y="2744.1" width="23.6" height="38.3" fill="#ff7000" stroke="#1a0a00" stroke-width="1.6"/><rect x="751.3" y="2782.4" width="23.6" height="152.0" fill="#ff8c00" stroke="#1a0a00" stroke-width="1.6"/><rect x="782.7" y="2751.9" width="23.6" height="30.5" fill="#ff7000" stroke="#1a0a00" stroke-width="1.6"/><rect x="782.7" y="2782.4" width="23.6" height="157.6" fill="#ff8c00" stroke="#1a0a00" stroke-width="1.6"/><rect x="814.0" y="2755.3" width="23.6" height="27.1" fill="#ff7000" stroke="#1a0a00" stroke-width="1.6"/><rect x="814.0" y="2782.4" width="23.6" height="73.1" fill="#ff8c00" stroke="#1a0a00" stroke-width="1.6"/><rect x="845.4" y="2751.9" width="23.6" height="30.5" fill="#ff7000" stroke="#1a0a00" stroke-width="1.6"/><rect x="845.4" y="2782.4" width="23.6" height="196.6" fill="#ff8c00" stroke="#1a0a00" stroke-width="1.6"/><rect x="876.8" y="2737.7" width="23.6" height="44.7" fill="#ff7000" stroke="#1a0a00" stroke-width="1.6"/><rect x="876.8" y="2782.4" width="23.6" height="30.4" fill="#ff8c00" stroke="#1a0a00" stroke-width="1.6"/><rect x="908.2" y="2686.4" width="23.6" height="96.0" fill="#ff7000" stroke="#1a0a00" stroke-width="1.6"/><rect x="908.2" y="2782.4" width="23.6" height="55.0" fill="#ff8c00" stroke="#1a0a00" stroke-width="1.6"/><rect x="939.6" y="2741.3" width="23.6" height="41.1" fill="#ff7000" stroke="#1a0a00" stroke-width="1.6"/><rect x="939.6" y="2782.4" width="23.6" height="35.4" fill="#ff8c00" stroke="#1a0a00" stroke-width="1.6"/><rect x="970.9" y="2727.4" width="23.6" height="55.0" fill="#ff7000" stroke="#1a0a00" stroke-width="1.6"/><rect x="970.9" y="2782.4" width="23.6" height="76.4" fill="#ff8c00" stroke="#1a0a00" stroke-width="1.6"/><rect x="1002.3" y="2755.3" width="23.6" height="27.1" fill="#ff7000" stroke="#1a0a00" stroke-width="1.6"/><rect x="1002.3" y="2782.4" width="23.6" height="115.8" fill="#ff8c00" stroke="#1a0a00" stroke-width="1.6"/><rect x="1033.7" y="2668.0" width="23.6" height="114.4" fill="#ff7000" stroke="#1a0a00" stroke-width="1.6"/><rect x="1033.7" y="2782.4" width="23.6" height="107.4" fill="#ff8c00" stroke="#1a0a00" stroke-width="1.6"/><rect x="1065.1" y="2588.5" width="23.6" height="193.9" fill="#ff7000" stroke="#1a0a00" stroke-width="1.6"/><rect x="1065.1" y="2782.4" width="23.6" height="144.2" fill="#ff8c00" stroke="#1a0a00" stroke-width="1.6"/><rect x="1096.5" y="2738.5" width="23.6" height="43.9" fill="#ff7000" stroke="#1a0a00" stroke-width="1.6"/><rect x="1096.5" y="2782.4" width="23.6" height="163.7" fill="#ff8c00" stroke="#1a0a00" stroke-width="1.6"/><rect x="1127.8" y="2742.7" width="23.6" height="39.7" fill="#ff7000" stroke="#1a0a00" stroke-width="1.6"/><rect x="1127.8" y="2782.4" width="23.6" height="220.9" fill="#ff8c00" stroke="#1a0a00" stroke-width="1.6"/><rect x="1159.2" y="2735.7" width="23.6" height="46.7" fill="#ff7000" stroke="#1a0a00" stroke-width="1.6"/><rect x="1159.2" y="2782.4" width="23.6" height="103.7" fill="#ff8c00" stroke="#1a0a00" stroke-width="1.6"/><rect x="1190.6" y="2738.5" width="23.6" height="43.9" fill="#ff7000" stroke="#1a0a00" stroke-width="1.6"/><rect x="1190.6" y="2782.4" width="23.6" height="115.7" fill="#ff8c00" stroke="#1a0a00" stroke-width="1.6"/><rect x="1222.0" y="2749.1" width="23.6" height="33.3" fill="#ff7000" stroke="#1a0a00" stroke-width="1.6"/><rect x="1222.0" y="2782.4" width="23.6" height="163.7" fill="#ff8c00" stroke="#1a0a00" stroke-width="1.6"/><rect x="1253.4" y="2746.1" width="23.6" height="36.3" fill="#ff7000" stroke="#1a0a00" stroke-width="1.6"/><rect x="1253.4" y="2782.4" width="23.6" height="79.5" fill="#ff8c00" stroke="#1a0a00" stroke-width="1.6"/><rect x="1284.7" y="2668.3" width="23.6" height="114.1" fill="#ff7000" stroke="#1a0a00" stroke-width="1.6"/><rect x="1284.7" y="2782.4" width="23.6" height="81.4" fill="#ff8c00" stroke="#1a0a00" stroke-width="1.6"/><rect x="1316.1" y="2734.3" width="23.6" height="48.1" fill="#ff7000" stroke="#1a0a00" stroke-width="1.6"/><rect x="1316.1" y="2782.4" width="23.6" height="123.3" fill="#ff8c00" stroke="#1a0a00" stroke-width="1.6"/><rect x="1347.5" y="2694.7" width="23.6" height="87.7" fill="#ff7000" stroke="#1a0a00" stroke-width="1.6"/><rect x="1347.5" y="2782.4" width="23.6" height="40.4" fill="#ff8c00" stroke="#1a0a00" stroke-width="1.6"/><rect x="1378.9" y="2747.5" width="23.6" height="34.9" fill="#ff7000" stroke="#1a0a00" stroke-width="1.6"/><rect x="1378.9" y="2782.4" width="23.6" height="71.7" fill="#ff8c00" stroke="#1a0a00" stroke-width="1.6"/><rect x="1410.3" y="2651.5" width="23.6" height="130.9" fill="#ff7000" stroke="#1a0a00" stroke-width="1.6"/><rect x="1441.6" y="2717.6" width="23.6" height="64.8" fill="#ff7000" stroke="#1a0a00" stroke-width="1.6"/><rect x="1473.0" y="2750.2" width="23.6" height="32.2" fill="#ff7000" stroke="#1a0a00" stroke-width="1.6"/></g>
<line x1="726.5" y1="2782.4" x2="1521.0" y2="2782.4" stroke="#333" stroke-width="2"/>
<rect x="726.5" y="2483.0" width="794.5" height="598.5" fill="none" stroke="#111" stroke-width="6.2"/>
<line x1="731.7" y1="2483.0" x2="731.7" y2="2492.0" stroke="#111" stroke-width="5.0"/>
<line x1="731.7" y1="3081.5" x2="731.7" y2="3072.5" stroke="#111" stroke-width="5.0"/>
<line x1="1045.5" y1="2483.0" x2="1045.5" y2="2492.0" stroke="#111" stroke-width="5.0"/>
<line x1="1045.5" y1="3081.5" x2="1045.5" y2="3072.5" stroke="#111" stroke-width="5.0"/>
<line x1="1359.3" y1="2483.0" x2="1359.3" y2="2492.0" stroke="#111" stroke-width="5.0"/>
<line x1="1359.3" y1="3081.5" x2="1359.3" y2="3072.5" stroke="#111" stroke-width="5.0"/>
<line x1="726.5" y1="2582.4" x2="735.5" y2="2582.4" stroke="#111" stroke-width="5.0"/>
<line x1="1521.0" y1="2582.4" x2="1512.0" y2="2582.4" stroke="#111" stroke-width="5.0"/>
<line x1="726.5" y1="2782.4" x2="735.5" y2="2782.4" stroke="#111" stroke-width="5.0"/>
<line x1="1521.0" y1="2782.4" x2="1512.0" y2="2782.4" stroke="#111" stroke-width="5.0"/>
<line x1="726.5" y1="2981.8" x2="735.5" y2="2981.8" stroke="#111" stroke-width="5.0"/>
<line x1="1521.0" y1="2981.8" x2="1512.0" y2="2981.8" stroke="#111" stroke-width="5.0"/>
<g><rect x="1629.6" y="2751.1" width="6.2" height="67.5" fill="#dfe4e9"/><rect x="1661.1" y="2755.9" width="6.2" height="46.8" fill="#dfe4e9"/><rect x="1692.5" y="2755.9" width="6.2" height="46.8" fill="#dfe4e9"/><rect x="1724.0" y="2751.1" width="6.2" height="62.8" fill="#dfe4e9"/><rect x="1755.4" y="2737.2" width="6.2" height="78.6" fill="#dfe4e9"/><rect x="1786.8" y="2740.0" width="6.2" height="75.8" fill="#dfe4e9"/><rect x="1818.3" y="2740.0" width="6.2" height="78.6" fill="#dfe4e9"/><rect x="1849.7" y="2755.9" width="6.2" height="62.7" fill="#dfe4e9"/><rect x="1881.2" y="2755.9" width="6.2" height="76.1" fill="#dfe4e9"/><rect x="1912.6" y="2667.5" width="6.2" height="203.6" fill="#dfe4e9"/><rect x="1944.0" y="2738.3" width="6.2" height="93.7" fill="#dfe4e9"/><rect x="1975.5" y="2742.8" width="6.2" height="84.2" fill="#dfe4e9"/><rect x="2006.9" y="2742.8" width="6.2" height="84.2" fill="#dfe4e9"/><rect x="2038.4" y="2738.3" width="6.2" height="88.7" fill="#dfe4e9"/><rect x="2069.8" y="2748.3" width="6.2" height="65.6" fill="#dfe4e9"/><rect x="2101.2" y="2748.3" width="6.2" height="60.0" fill="#dfe4e9"/><rect x="2132.7" y="2745.5" width="6.2" height="62.8" fill="#dfe4e9"/><rect x="2164.1" y="2734.4" width="6.2" height="92.0" fill="#dfe4e9"/><rect x="2195.6" y="2734.4" width="6.2" height="103.7" fill="#dfe4e9"/><rect x="2227.0" y="2748.3" width="6.2" height="53.6" fill="#dfe4e9"/><rect x="2258.4" y="2748.3" width="6.2" height="53.6" fill="#dfe4e9"/><rect x="2289.9" y="2718.2" width="6.2" height="122.2" fill="#dfe4e9"/><rect x="2321.3" y="2751.1" width="6.2" height="64.2" fill="#dfe4e9"/><rect x="1605.2" y="2745.5" width="23.6" height="38.3" fill="#ff7000" stroke="#1a0a00" stroke-width="1.6"/><rect x="1605.2" y="2783.8" width="23.6" height="35.4" fill="#ff8c00" stroke="#1a0a00" stroke-width="1.6"/><rect x="1636.7" y="2751.9" width="23.6" height="31.9" fill="#ff7000" stroke="#1a0a00" stroke-width="1.6"/><rect x="1636.7" y="2783.8" width="23.6" height="34.0" fill="#ff8c00" stroke="#1a0a00" stroke-width="1.6"/><rect x="1668.1" y="2756.7" width="23.6" height="27.1" fill="#ff7000" stroke="#1a0a00" stroke-width="1.6"/><rect x="1668.1" y="2783.8" width="23.6" height="18.1" fill="#ff8c00" stroke="#1a0a00" stroke-width="1.6"/><rect x="1699.6" y="2751.9" width="23.6" height="31.9" fill="#ff7000" stroke="#1a0a00" stroke-width="1.6"/><rect x="1699.6" y="2783.8" width="23.6" height="29.3" fill="#ff8c00" stroke="#1a0a00" stroke-width="1.6"/><rect x="1731.0" y="2738.0" width="23.6" height="45.8" fill="#ff7000" stroke="#1a0a00" stroke-width="1.6"/><rect x="1731.0" y="2783.8" width="23.6" height="37.4" fill="#ff8c00" stroke="#1a0a00" stroke-width="1.6"/><rect x="1762.4" y="2687.8" width="23.6" height="96.0" fill="#ff7000" stroke="#1a0a00" stroke-width="1.6"/><rect x="1762.4" y="2783.8" width="23.6" height="31.2" fill="#ff8c00" stroke="#1a0a00" stroke-width="1.6"/><rect x="1793.9" y="2740.8" width="23.6" height="43.0" fill="#ff7000" stroke="#1a0a00" stroke-width="1.6"/><rect x="1793.9" y="2783.8" width="23.6" height="42.4" fill="#ff8c00" stroke="#1a0a00" stroke-width="1.6"/><rect x="1825.3" y="2727.4" width="23.6" height="56.4" fill="#ff7000" stroke="#1a0a00" stroke-width="1.6"/><rect x="1825.3" y="2783.8" width="23.6" height="34.0" fill="#ff8c00" stroke="#1a0a00" stroke-width="1.6"/><rect x="1856.8" y="2756.7" width="23.6" height="27.1" fill="#ff7000" stroke="#1a0a00" stroke-width="1.6"/><rect x="1856.8" y="2783.8" width="23.6" height="47.4" fill="#ff8c00" stroke="#1a0a00" stroke-width="1.6"/><rect x="1888.2" y="2668.3" width="23.6" height="115.5" fill="#ff7000" stroke="#1a0a00" stroke-width="1.6"/><rect x="1888.2" y="2783.8" width="23.6" height="86.5" fill="#ff8c00" stroke="#1a0a00" stroke-width="1.6"/><rect x="1919.6" y="2589.3" width="23.6" height="194.5" fill="#ff7000" stroke="#1a0a00" stroke-width="1.6"/><rect x="1919.6" y="2783.8" width="23.6" height="117.7" fill="#ff8c00" stroke="#1a0a00" stroke-width="1.6"/><rect x="1951.1" y="2739.1" width="23.6" height="44.7" fill="#ff7000" stroke="#1a0a00" stroke-width="1.6"/><rect x="1951.1" y="2783.8" width="23.6" height="47.4" fill="#ff8c00" stroke="#1a0a00" stroke-width="1.6"/><rect x="1982.5" y="2743.6" width="23.6" height="40.2" fill="#ff7000" stroke="#1a0a00" stroke-width="1.6"/><rect x="1982.5" y="2783.8" width="23.6" height="42.4" fill="#ff8c00" stroke="#1a0a00" stroke-width="1.6"/><rect x="2014.0" y="2737.7" width="23.6" height="46.1" fill="#ff7000" stroke="#1a0a00" stroke-width="1.6"/><rect x="2014.0" y="2783.8" width="23.6" height="42.4" fill="#ff8c00" stroke="#1a0a00" stroke-width="1.6"/><rect x="2045.4" y="2739.1" width="23.6" height="44.7" fill="#ff7000" stroke="#1a0a00" stroke-width="1.6"/><rect x="2045.4" y="2783.8" width="23.6" height="42.9" fill="#ff8c00" stroke="#1a0a00" stroke-width="1.6"/><rect x="2076.8" y="2749.1" width="23.6" height="34.7" fill="#ff7000" stroke="#1a0a00" stroke-width="1.6"/><rect x="2076.8" y="2783.8" width="23.6" height="29.3" fill="#ff8c00" stroke="#1a0a00" stroke-width="1.6"/><rect x="2108.3" y="2746.3" width="23.6" height="37.5" fill="#ff7000" stroke="#1a0a00" stroke-width="1.6"/><rect x="2108.3" y="2783.8" width="23.6" height="23.7" fill="#ff8c00" stroke="#1a0a00" stroke-width="1.6"/><rect x="2139.7" y="2669.6" width="23.6" height="114.2" fill="#ff7000" stroke="#1a0a00" stroke-width="1.6"/><rect x="2139.7" y="2783.8" width="23.6" height="41.8" fill="#ff8c00" stroke="#1a0a00" stroke-width="1.6"/><rect x="2171.2" y="2735.2" width="23.6" height="48.6" fill="#ff7000" stroke="#1a0a00" stroke-width="1.6"/><rect x="2171.2" y="2783.8" width="23.6" height="64.7" fill="#ff8c00" stroke="#1a0a00" stroke-width="1.6"/><rect x="2202.6" y="2696.1" width="23.6" height="87.7" fill="#ff7000" stroke="#1a0a00" stroke-width="1.6"/><rect x="2202.6" y="2783.8" width="23.6" height="53.5" fill="#ff8c00" stroke="#1a0a00" stroke-width="1.6"/><rect x="2234.0" y="2749.1" width="23.6" height="34.7" fill="#ff7000" stroke="#1a0a00" stroke-width="1.6"/><rect x="2234.0" y="2783.8" width="23.6" height="17.3" fill="#ff8c00" stroke="#1a0a00" stroke-width="1.6"/><rect x="2265.5" y="2653.5" width="23.6" height="130.3" fill="#ff7000" stroke="#1a0a00" stroke-width="1.6"/><rect x="2265.5" y="2783.8" width="23.6" height="116.3" fill="#ff8c00" stroke="#1a0a00" stroke-width="1.6"/><rect x="2296.9" y="2719.0" width="23.6" height="64.8" fill="#ff7000" stroke="#1a0a00" stroke-width="1.6"/><rect x="2296.9" y="2783.8" width="23.6" height="55.8" fill="#ff8c00" stroke="#1a0a00" stroke-width="1.6"/><rect x="2328.4" y="2751.9" width="23.6" height="31.9" fill="#ff7000" stroke="#1a0a00" stroke-width="1.6"/><rect x="2328.4" y="2783.8" width="23.6" height="30.7" fill="#ff8c00" stroke="#1a0a00" stroke-width="1.6"/></g>
<line x1="1581.4" y1="2783.8" x2="2375.3" y2="2783.8" stroke="#333" stroke-width="2"/>
<rect x="1581.4" y="2483.0" width="793.9" height="599.0" fill="none" stroke="#111" stroke-width="6.2"/>
<line x1="1585.6" y1="2483.0" x2="1585.6" y2="2492.0" stroke="#111" stroke-width="5.0"/>
<line x1="1585.6" y1="3082.0" x2="1585.6" y2="3073.0" stroke="#111" stroke-width="5.0"/>
<line x1="1900.0" y1="2483.0" x2="1900.0" y2="2492.0" stroke="#111" stroke-width="5.0"/>
<line x1="1900.0" y1="3082.0" x2="1900.0" y2="3073.0" stroke="#111" stroke-width="5.0"/>
<line x1="2214.4" y1="2483.0" x2="2214.4" y2="2492.0" stroke="#111" stroke-width="5.0"/>
<line x1="2214.4" y1="3082.0" x2="2214.4" y2="3073.0" stroke="#111" stroke-width="5.0"/>
<line x1="1581.4" y1="2583.5" x2="1590.4" y2="2583.5" stroke="#111" stroke-width="5.0"/>
<line x1="2375.3" y1="2583.5" x2="2366.3" y2="2583.5" stroke="#111" stroke-width="5.0"/>
<line x1="1581.4" y1="2783.8" x2="1590.4" y2="2783.8" stroke="#111" stroke-width="5.0"/>
<line x1="2375.3" y1="2783.8" x2="2366.3" y2="2783.8" stroke="#111" stroke-width="5.0"/>
<line x1="1581.4" y1="2983.2" x2="1590.4" y2="2983.2" stroke="#111" stroke-width="5.0"/>
<line x1="2375.3" y1="2983.2" x2="2366.3" y2="2983.2" stroke="#111" stroke-width="5.0"/>
<text x="107.00" y="98.50" font-size="56" font-weight="normal" text-anchor="start" fill="#111" textLength="75.14" lengthAdjust="spacingAndGlyphs" stroke="#111" stroke-width="1.0">(a)</text>
<text x="362.00" y="98.00" font-size="59" font-weight="normal" text-anchor="start" fill="#111" textLength="302.64" lengthAdjust="spacingAndGlyphs" stroke="#111" stroke-width="1.4">Native HZO</text>
<text x="1433.50" y="92.80" font-size="57" font-weight="normal" text-anchor="start" fill="#111" textLength="398.06" lengthAdjust="spacingAndGlyphs" stroke="#111" stroke-width="1.4">Ga-doped HZO</text>
<text x="267.00" y="245.00" font-size="54" font-weight="normal" text-anchor="start" fill="#111" textLength="542.59" lengthAdjust="spacingAndGlyphs" stroke="#111" stroke-width="1.4">First kind of switching</text>
<text x="981.50" y="244.40" font-size="54" font-weight="normal" text-anchor="start" fill="#111" textLength="570.58" lengthAdjust="spacingAndGlyphs" stroke="#111" stroke-width="1.4">Non- or back-switching</text>
<text x="1664.00" y="245.50" font-size="54" font-weight="normal" text-anchor="start" fill="#111" textLength="617.54" lengthAdjust="spacingAndGlyphs" stroke="#111" stroke-width="1.4">Second kind of switching</text>
<text x="462.00" y="1517.00" font-size="54.5" font-weight="normal" text-anchor="start" fill="#111" textLength="241.50" lengthAdjust="spacingAndGlyphs" stroke="#111" stroke-width="1.4">Voltage, V</text>
<text x="1183.50" y="1517.00" font-size="54.5" font-weight="normal" text-anchor="start" fill="#111" textLength="240.51" lengthAdjust="spacingAndGlyphs" stroke="#111" stroke-width="1.4">Voltage, V</text>
<text x="1904.00" y="1517.00" font-size="54.5" font-weight="normal" text-anchor="start" fill="#111" textLength="241.01" lengthAdjust="spacingAndGlyphs" stroke="#111" stroke-width="1.4">Voltage, V</text>
<text x="91.80" y="777.00" transform="rotate(-89.3 91.80 777.00)" font-size="56" font-weight="normal" text-anchor="start" fill="#111" textLength="372.02" lengthAdjust="spacingAndGlyphs" stroke="#111" stroke-width="1.4">Amplitude, a.u.</text>
<text x="91.70" y="1252.00" transform="rotate(-89.3 91.70 1252.00)" font-size="56" font-weight="normal" text-anchor="start" fill="#111" textLength="264.23" lengthAdjust="spacingAndGlyphs" stroke="#111" stroke-width="1.4">Phase, rad.</text>
<text x="166.50" y="417.00" font-size="53" font-weight="normal" text-anchor="start" fill="#111" textLength="28.99" lengthAdjust="spacingAndGlyphs" stroke="#111" stroke-width="1.4">2</text>
<text x="171.50" y="586.20" font-size="53" font-weight="normal" text-anchor="start" fill="#111" textLength="16.95" lengthAdjust="spacingAndGlyphs" stroke="#111" stroke-width="1.4">1</text>
<text x="166.50" y="754.20" font-size="53" font-weight="normal" text-anchor="start" fill="#111" textLength="28.75" lengthAdjust="spacingAndGlyphs" stroke="#111" stroke-width="1.4">0</text>
<text x="163.00" y="993.20" font-size="53" font-weight="normal" text-anchor="start" fill="#111" textLength="29.59" lengthAdjust="spacingAndGlyphs" stroke="#111" stroke-width="1.4">2</text>
<text x="164.00" y="1121.40" font-size="53" font-weight="normal" text-anchor="start" fill="#111" textLength="27.22" lengthAdjust="spacingAndGlyphs" stroke="#111" stroke-width="1.4">0</text>
<text x="163.00" y="1250.90" font-size="53" font-weight="normal" text-anchor="start" fill="#111" textLength="28.62" lengthAdjust="spacingAndGlyphs" stroke="#111" stroke-width="1.4">2</text>
<text x="132.00" y="1250.90" font-size="53" font-weight="normal" text-anchor="start" fill="#111" textLength="17.53" lengthAdjust="spacingAndGlyphs" stroke="#111" stroke-width="1.4">-</text>
<text x="342.50" y="1438.20" font-size="53" font-weight="normal" text-anchor="start" fill="#111" textLength="19.48" lengthAdjust="spacingAndGlyphs" stroke="#111" stroke-width="1.4">-</text>
<text x="374.50" y="1438.20" font-size="53" font-weight="normal" text-anchor="start" fill="#111" textLength="29.96" lengthAdjust="spacingAndGlyphs" stroke="#111" stroke-width="1.4">2</text>
<text x="551.00" y="1438.00" font-size="53" font-weight="normal" text-anchor="start" fill="#111" textLength="29.83" lengthAdjust="spacingAndGlyphs" stroke="#111" stroke-width="1.4">0</text>
<text x="726.00" y="1438.20" font-size="53" font-weight="normal" text-anchor="start" fill="#111" textLength="29.62" lengthAdjust="spacingAndGlyphs" stroke="#111" stroke-width="1.4">2</text>
<text x="1057.00" y="1438.20" font-size="53" font-weight="normal" text-anchor="start" fill="#111" textLength="19.41" lengthAdjust="spacingAndGlyphs" stroke="#111" stroke-width="1.4">-</text>
<text x="1089.00" y="1438.20" font-size="53" font-weight="normal" text-anchor="start" fill="#111" textLength="29.41" lengthAdjust="spacingAndGlyphs" stroke="#111" stroke-width="1.4">2</text>
<text x="1266.00" y="1438.00" font-size="53" font-weight="normal" text-anchor="start" fill="#111" textLength="28.73" lengthAdjust="spacingAndGlyphs" stroke="#111" stroke-width="1.4">0</text>
<text x="1441.00" y="1438.20" font-size="53" font-weight="normal" text-anchor="start" fill="#111" textLength="29.59" lengthAdjust="spacingAndGlyphs" stroke="#111" stroke-width="1.4">2</text>
<text x="1770.50" y="1438.20" font-size="53" font-weight="normal" text-anchor="start" fill="#111" textLength="19.11" lengthAdjust="spacingAndGlyphs" stroke="#111" stroke-width="1.4">-</text>
<text x="1802.00" y="1438.20" font-size="53" font-weight="normal" text-anchor="start" fill="#111" textLength="30.21" lengthAdjust="spacingAndGlyphs" stroke="#111" stroke-width="1.4">2</text>
<text x="1978.50" y="1438.00" font-size="53" font-weight="normal" text-anchor="start" fill="#111" textLength="28.71" lengthAdjust="spacingAndGlyphs" stroke="#111" stroke-width="1.4">0</text>
<text x="2154.00" y="1438.20" font-size="53" font-weight="normal" text-anchor="start" fill="#111" textLength="29.41" lengthAdjust="spacingAndGlyphs" stroke="#111" stroke-width="1.4">2</text>
<text x="108.50" y="1657.80" font-size="56" font-weight="normal" text-anchor="start" fill="#111" textLength="78.11" lengthAdjust="spacingAndGlyphs" stroke="#111" stroke-width="1.0">(b)</text>
<text x="280.50" y="1743.70" font-size="53.3" font-weight="normal" text-anchor="start" fill="#111" textLength="280.12" lengthAdjust="spacingAndGlyphs" stroke="#111" stroke-width="1.4">Native HZO</text>
<text x="824.50" y="1743.60" font-size="52.5" font-weight="normal" text-anchor="start" fill="#111" textLength="608.04" lengthAdjust="spacingAndGlyphs" stroke="#111" stroke-width="1.4">Ga-doped HZO (0.1 at.%)</text>
<text x="1656.50" y="1743.60" font-size="52.5" font-weight="normal" text-anchor="start" fill="#111" textLength="608.03" lengthAdjust="spacingAndGlyphs" stroke="#111" stroke-width="1.4">Ga-doped HZO (0.3 at.%)</text>
<text x="512.00" y="3264.00" font-size="55.7" font-weight="normal" text-anchor="start" fill="#111" textLength="1289.02" lengthAdjust="spacingAndGlyphs" stroke="#111" stroke-width="1.4">Number of placements of the AFM tip within regions</text>
<text x="94.20" y="2457.00" transform="rotate(-89.5 94.20 2457.00)" font-size="55" font-weight="normal" text-anchor="start" fill="#111" textLength="622.51" lengthAdjust="spacingAndGlyphs" stroke="#111" stroke-width="1.4">Local coercive voltages, V</text>
<text x="94.80" y="3063.00" transform="rotate(-89.5 94.80 3063.00)" font-size="55" font-weight="normal" text-anchor="start" fill="#111" textLength="587.61" lengthAdjust="spacingAndGlyphs" stroke="#111" stroke-width="1.4">Maximal amplitude, a.u.</text>
<text x="167.50" y="1992.70" font-size="46.5" font-weight="normal" text-anchor="start" fill="#111" textLength="30.70" lengthAdjust="spacingAndGlyphs">2</text>
<text x="168.50" y="2153.00" font-size="46.5" font-weight="normal" text-anchor="start" fill="#111" textLength="28.02" lengthAdjust="spacingAndGlyphs">0</text>
<text x="167.50" y="2314.40" font-size="46.5" font-weight="normal" text-anchor="start" fill="#111" textLength="30.70" lengthAdjust="spacingAndGlyphs">2</text>
<text x="144.00" y="2314.40" font-size="46.5" font-weight="normal" text-anchor="start" fill="#111" textLength="16.04" lengthAdjust="spacingAndGlyphs">-</text>
<text x="166.00" y="2499.30" font-size="46.5" font-weight="normal" text-anchor="start" fill="#111" textLength="30.76" lengthAdjust="spacingAndGlyphs">3</text>
<text x="166.00" y="2601.40" font-size="46.5" font-weight="normal" text-anchor="start" fill="#111" textLength="30.98" lengthAdjust="spacingAndGlyphs">2</text>
<text x="168.50" y="2701.60" font-size="46.5" font-weight="normal" text-anchor="start" fill="#111" textLength="19.18" lengthAdjust="spacingAndGlyphs">1</text>
<text x="166.00" y="2802.70" font-size="46.5" font-weight="normal" text-anchor="start" fill="#111" textLength="29.62" lengthAdjust="spacingAndGlyphs">0</text>
<text x="168.50" y="2901.90" font-size="46.5" font-weight="normal" text-anchor="start" fill="#111" textLength="19.18" lengthAdjust="spacingAndGlyphs">1</text>
<text x="142.00" y="2901.90" font-size="46.5" font-weight="normal" text-anchor="start" fill="#111" textLength="17.45" lengthAdjust="spacingAndGlyphs">-</text>
<text x="166.00" y="3002.00" font-size="46.5" font-weight="normal" text-anchor="start" fill="#111" textLength="30.98" lengthAdjust="spacingAndGlyphs">2</text>
<text x="142.00" y="3002.00" font-size="46.5" font-weight="normal" text-anchor="start" fill="#111" textLength="17.45" lengthAdjust="spacingAndGlyphs">-</text>
<text x="166.00" y="3106.20" font-size="46.5" font-weight="normal" text-anchor="start" fill="#111" textLength="30.76" lengthAdjust="spacingAndGlyphs">3</text>
<text x="142.00" y="3106.20" font-size="46.5" font-weight="normal" text-anchor="start" fill="#111" textLength="17.45" lengthAdjust="spacingAndGlyphs">-</text>
<text x="244.00" y="3160.30" font-size="53" font-weight="normal" text-anchor="start" fill="#111" textLength="30.39" lengthAdjust="spacingAndGlyphs" stroke="#111" stroke-width="1.4">0</text>
<text x="542.00" y="3160.30" font-size="53" font-weight="normal" text-anchor="start" fill="#111" textLength="56.90" lengthAdjust="spacingAndGlyphs" stroke="#111" stroke-width="1.4">10</text>
<text x="733.00" y="3160.30" font-size="53" font-weight="normal" text-anchor="start" fill="#111" textLength="29.83" lengthAdjust="spacingAndGlyphs" stroke="#111" stroke-width="1.4">0</text>
<text x="1017.00" y="3160.30" font-size="53" font-weight="normal" text-anchor="start" fill="#111" textLength="58.44" lengthAdjust="spacingAndGlyphs" stroke="#111" stroke-width="1.4">10</text>
<text x="1327.50" y="3160.30" font-size="53" font-weight="normal" text-anchor="start" fill="#111" textLength="60.77" lengthAdjust="spacingAndGlyphs" stroke="#111" stroke-width="1.4">20</text>
<text x="1586.50" y="3160.30" font-size="53" font-weight="normal" text-anchor="start" fill="#111" textLength="30.26" lengthAdjust="spacingAndGlyphs" stroke="#111" stroke-width="1.4">0</text>
<text x="1872.50" y="3160.30" font-size="53" font-weight="normal" text-anchor="start" fill="#111" textLength="57.99" lengthAdjust="spacingAndGlyphs" stroke="#111" stroke-width="1.4">10</text>
<text x="2183.00" y="3160.30" font-size="53" font-weight="normal" text-anchor="start" fill="#111" textLength="60.17" lengthAdjust="spacingAndGlyphs" stroke="#111" stroke-width="1.4">20</text></svg>
</body></html>
